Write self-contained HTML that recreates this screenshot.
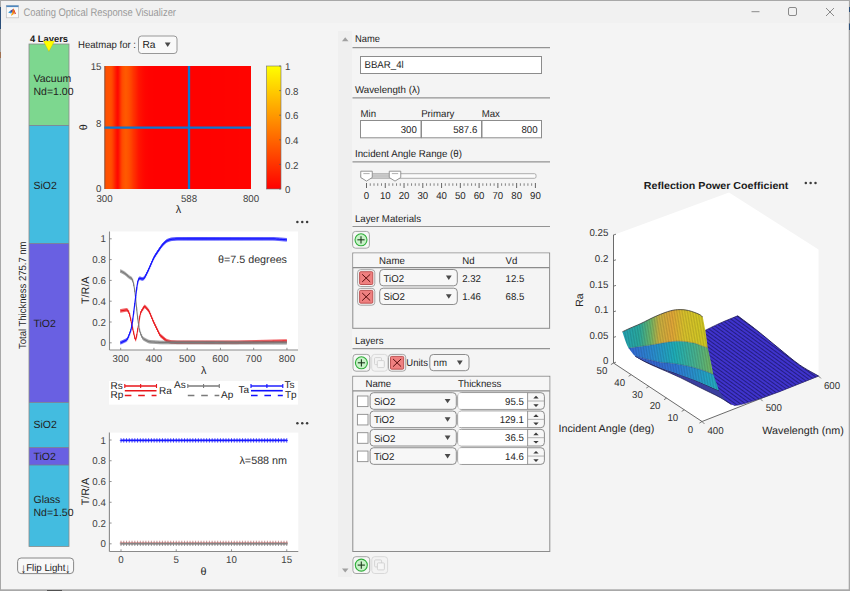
<!DOCTYPE html>
<html><head><meta charset="utf-8"><title>Coating Optical Response Visualizer</title>
<style>html,body{margin:0;padding:0;width:850px;height:591px;overflow:hidden;background:#a8a8a8}
svg{display:block} text{font-family:'Liberation Sans',Arial,sans-serif;text-rendering:geometricPrecision}</style></head>
<body><svg width="850" height="591" viewBox="0 0 850 591">
<rect x="0" y="0" width="850" height="591" fill="#a8a8a8"/>
<rect x="0" y="7" width="1" height="22" fill="#2b4f7a"/>
<rect x="0" y="52" width="1" height="6" fill="#a07050"/>
<rect x="849" y="7" width="1" height="5" fill="#2b4f7a"/>
<rect x="849" y="23.5" width="1" height="6.5" fill="#2b4f7a"/>
<rect x="47" y="590" width="15" height="1" fill="#505050"/>
<rect x="1" y="1" width="847.7" height="588.3" fill="#f4f4f4"/>
<rect x="1" y="1" width="847.7" height="22" fill="#f1f1f1"/>
<rect x="6.3" y="5.4" width="12.2" height="12.4" fill="#fafafa" stroke="#bdbdbd" stroke-width="0.7"/>
<rect x="6.3" y="5.4" width="12.2" height="1.7" fill="#4f88bf"/>
<path d="M8.1,12.4 L10.6,10.6 L12.4,11.6 L11.2,13.6 Z" fill="#2f96d6"/>
<path d="M10.4,11.0 L12.9,8.9 L12.6,12.6 Z" fill="#4a2f8a"/>
<path d="M11.2,15.8 L13.4,8.3 L14.9,11.4 L13.2,14.6 Z" fill="#f07a12"/>
<path d="M13.4,8.3 L16.0,13.7 L14.6,14.3 L14.2,11.2 Z" fill="#d5301e"/>
<path d="M11.2,15.8 L12.2,13.0 L13.4,14.0 Z" fill="#f3c21f"/>
<text x="23.5" y="16.3" font-size="11" fill="#9a9a9a" textLength="152.5" lengthAdjust="spacingAndGlyphs">Coating Optical Response Visualizer</text>
<line x1="751.5" y1="11.7" x2="759.5" y2="11.7" stroke="#8a8a8a" stroke-width="1"/>
<rect x="788.5" y="7.5" width="8" height="8" fill="none" stroke="#8a8a8a" stroke-width="1" rx="1.5"/>
<line x1="826" y1="8" x2="834" y2="16" stroke="#8a8a8a" stroke-width="1"/>
<line x1="834" y1="8" x2="826" y2="16" stroke="#8a8a8a" stroke-width="1"/>
<text x="30" y="41.5" font-size="9.4" fill="#1a1a1a" font-weight="700" textLength="38" lengthAdjust="spacingAndGlyphs">4 Layers</text>
<rect x="29" y="44" width="40" height="81.5" fill="#7dd78f"/>
<rect x="29" y="125.5" width="40" height="118.0" fill="#43bce0"/>
<rect x="29" y="243.5" width="40" height="159.0" fill="#6960e2"/>
<rect x="29" y="402.5" width="40" height="45.0" fill="#43bce0"/>
<rect x="29" y="447.5" width="40" height="17.5" fill="#6960e2"/>
<rect x="29" y="465" width="40" height="81.5" fill="#43bce0"/>
<line x1="29" y1="125.5" x2="69" y2="125.5" stroke="#7a7a8a" stroke-width="0.8"/>
<line x1="29" y1="243.5" x2="69" y2="243.5" stroke="#7a7a8a" stroke-width="0.8"/>
<line x1="29" y1="402.5" x2="69" y2="402.5" stroke="#7a7a8a" stroke-width="0.8"/>
<line x1="29" y1="447.5" x2="69" y2="447.5" stroke="#7a7a8a" stroke-width="0.8"/>
<line x1="29" y1="465" x2="69" y2="465" stroke="#7a7a8a" stroke-width="0.8"/>
<rect x="29" y="44" width="40" height="502.5" fill="none" stroke="#8a8a8a" stroke-width="0.8"/>
<path d="M43.3,41.0 L54.6,41.0 L48.9,51.5 Z" fill="#ffff00" stroke="#b0a000" stroke-width="0.3"/>
<text x="33.5" y="82" font-size="10.5" fill="#222">Vacuum</text>
<text x="33.5" y="95" font-size="10.5" fill="#222">Nd=1.00</text>
<text x="33.5" y="188.5" font-size="10.5" fill="#222">SiO2</text>
<text x="33.5" y="327" font-size="10.5" fill="#222">TiO2</text>
<text x="33.5" y="428" font-size="10.5" fill="#222">SiO2</text>
<text x="33.5" y="459.5" font-size="10.5" fill="#222">TiO2</text>
<text x="33.5" y="502.5" font-size="10.5" fill="#222">Glass</text>
<text x="33.5" y="515.5" font-size="10.5" fill="#222">Nd=1.50</text>
<text x="25.8" y="349" font-size="10.3" fill="#262626" textLength="107.5" lengthAdjust="spacingAndGlyphs" transform="rotate(-90 25.8 349)">Total Thickness 275.7 nm</text>
<rect x="17.6" y="558" width="56" height="15.6" fill="#f8f8f8" stroke="#7a7a7a" stroke-width="0.9" rx="3.5"/>
<text x="23.4" y="572.6" font-size="10" fill="#222" text-anchor="middle" transform="translate(23.4 572.6) scale(1 1.4) translate(-23.4 -572.6)">↓</text>
<text x="45.8" y="570.8" font-size="10" fill="#222" text-anchor="middle" textLength="39.3" lengthAdjust="spacingAndGlyphs">Flip Light</text>
<text x="67.8" y="572.6" font-size="10" fill="#222" text-anchor="middle" transform="translate(67.8 572.6) scale(1 1.4) translate(-67.8 -572.6)">↓</text>
<text x="78" y="48.4" font-size="10" fill="#262626" textLength="58" lengthAdjust="spacingAndGlyphs">Heatmap for :</text>
<rect x="138.5" y="36" width="38.5" height="17.5" fill="#f9f9f9" stroke="#8c8c8c" stroke-width="0.9" rx="3"/>
<text x="142.5" y="48" font-size="10.2" fill="#1a1a1a">Ra</text>
<path d="M164.8,42.4 L170.6,42.4 L167.7,46.9 Z" fill="#4a4a4a"/>
<defs><linearGradient id="hm" x1="0" y1="0" x2="1" y2="0"><stop offset="0.0000" stop-color="rgb(255,78,0)"/><stop offset="0.0080" stop-color="rgb(255,79,0)"/><stop offset="0.0160" stop-color="rgb(255,79,0)"/><stop offset="0.0240" stop-color="rgb(255,80,0)"/><stop offset="0.0320" stop-color="rgb(255,81,0)"/><stop offset="0.0400" stop-color="rgb(255,80,0)"/><stop offset="0.0480" stop-color="rgb(255,75,0)"/><stop offset="0.0560" stop-color="rgb(255,65,0)"/><stop offset="0.0640" stop-color="rgb(255,50,0)"/><stop offset="0.0720" stop-color="rgb(255,35,0)"/><stop offset="0.0800" stop-color="rgb(255,21,0)"/><stop offset="0.0880" stop-color="rgb(255,9,0)"/><stop offset="0.0960" stop-color="rgb(255,17,0)"/><stop offset="0.1040" stop-color="rgb(255,36,0)"/><stop offset="0.1120" stop-color="rgb(255,57,0)"/><stop offset="0.1200" stop-color="rgb(255,73,0)"/><stop offset="0.1280" stop-color="rgb(255,80,0)"/><stop offset="0.1360" stop-color="rgb(255,85,0)"/><stop offset="0.1440" stop-color="rgb(255,89,0)"/><stop offset="0.1520" stop-color="rgb(255,87,0)"/><stop offset="0.1600" stop-color="rgb(255,83,0)"/><stop offset="0.1680" stop-color="rgb(255,79,0)"/><stop offset="0.1760" stop-color="rgb(255,72,0)"/><stop offset="0.1840" stop-color="rgb(255,65,0)"/><stop offset="0.1920" stop-color="rgb(255,57,0)"/><stop offset="0.2000" stop-color="rgb(255,49,0)"/><stop offset="0.2080" stop-color="rgb(255,43,0)"/><stop offset="0.2160" stop-color="rgb(255,36,0)"/><stop offset="0.2240" stop-color="rgb(255,29,0)"/><stop offset="0.2320" stop-color="rgb(255,22,0)"/><stop offset="0.2400" stop-color="rgb(255,18,0)"/><stop offset="0.2480" stop-color="rgb(255,15,0)"/><stop offset="0.2560" stop-color="rgb(255,12,0)"/><stop offset="0.2640" stop-color="rgb(255,9,0)"/><stop offset="0.2720" stop-color="rgb(255,7,0)"/><stop offset="0.2800" stop-color="rgb(255,5,0)"/><stop offset="0.2880" stop-color="rgb(255,4,0)"/><stop offset="0.2960" stop-color="rgb(255,3,0)"/><stop offset="0.3040" stop-color="rgb(255,2,0)"/><stop offset="0.3120" stop-color="rgb(255,2,0)"/><stop offset="0.3200" stop-color="rgb(255,2,0)"/><stop offset="0.3280" stop-color="rgb(255,2,0)"/><stop offset="0.3360" stop-color="rgb(255,1,0)"/><stop offset="0.3440" stop-color="rgb(255,1,0)"/><stop offset="0.3520" stop-color="rgb(255,1,0)"/><stop offset="0.3600" stop-color="rgb(255,1,0)"/><stop offset="0.3680" stop-color="rgb(255,1,0)"/><stop offset="0.3760" stop-color="rgb(255,1,0)"/><stop offset="0.3840" stop-color="rgb(255,1,0)"/><stop offset="0.3920" stop-color="rgb(255,1,0)"/><stop offset="0.4000" stop-color="rgb(255,1,0)"/><stop offset="0.4080" stop-color="rgb(255,1,0)"/><stop offset="0.4160" stop-color="rgb(255,1,0)"/><stop offset="0.4240" stop-color="rgb(255,1,0)"/><stop offset="0.4320" stop-color="rgb(255,1,0)"/><stop offset="0.4400" stop-color="rgb(255,1,0)"/><stop offset="0.4480" stop-color="rgb(255,1,0)"/><stop offset="0.4560" stop-color="rgb(255,1,0)"/><stop offset="0.4640" stop-color="rgb(255,1,0)"/><stop offset="0.4720" stop-color="rgb(255,1,0)"/><stop offset="0.4800" stop-color="rgb(255,1,0)"/><stop offset="0.4880" stop-color="rgb(255,1,0)"/><stop offset="0.4960" stop-color="rgb(255,1,0)"/><stop offset="0.5040" stop-color="rgb(255,1,0)"/><stop offset="0.5120" stop-color="rgb(255,1,0)"/><stop offset="0.5200" stop-color="rgb(255,1,0)"/><stop offset="0.5280" stop-color="rgb(255,1,0)"/><stop offset="0.5360" stop-color="rgb(255,1,0)"/><stop offset="0.5440" stop-color="rgb(255,1,0)"/><stop offset="0.5520" stop-color="rgb(255,1,0)"/><stop offset="0.5600" stop-color="rgb(255,1,0)"/><stop offset="0.5680" stop-color="rgb(255,1,0)"/><stop offset="0.5760" stop-color="rgb(255,1,0)"/><stop offset="0.5840" stop-color="rgb(255,1,0)"/><stop offset="0.5920" stop-color="rgb(255,1,0)"/><stop offset="0.6000" stop-color="rgb(255,1,0)"/><stop offset="0.6080" stop-color="rgb(255,1,0)"/><stop offset="0.6160" stop-color="rgb(255,1,0)"/><stop offset="0.6240" stop-color="rgb(255,1,0)"/><stop offset="0.6320" stop-color="rgb(255,1,0)"/><stop offset="0.6400" stop-color="rgb(255,1,0)"/><stop offset="0.6480" stop-color="rgb(255,1,0)"/><stop offset="0.6560" stop-color="rgb(255,1,0)"/><stop offset="0.6640" stop-color="rgb(255,1,0)"/><stop offset="0.6720" stop-color="rgb(255,1,0)"/><stop offset="0.6800" stop-color="rgb(255,1,0)"/><stop offset="0.6880" stop-color="rgb(255,1,0)"/><stop offset="0.6960" stop-color="rgb(255,1,0)"/><stop offset="0.7040" stop-color="rgb(255,1,0)"/><stop offset="0.7120" stop-color="rgb(255,1,0)"/><stop offset="0.7200" stop-color="rgb(255,1,0)"/><stop offset="0.7280" stop-color="rgb(255,2,0)"/><stop offset="0.7360" stop-color="rgb(255,2,0)"/><stop offset="0.7440" stop-color="rgb(255,2,0)"/><stop offset="0.7520" stop-color="rgb(255,2,0)"/><stop offset="0.7600" stop-color="rgb(255,2,0)"/><stop offset="0.7680" stop-color="rgb(255,2,0)"/><stop offset="0.7760" stop-color="rgb(255,2,0)"/><stop offset="0.7840" stop-color="rgb(255,2,0)"/><stop offset="0.7920" stop-color="rgb(255,2,0)"/><stop offset="0.8000" stop-color="rgb(255,2,0)"/><stop offset="0.8080" stop-color="rgb(255,2,0)"/><stop offset="0.8160" stop-color="rgb(255,2,0)"/><stop offset="0.8240" stop-color="rgb(255,3,0)"/><stop offset="0.8320" stop-color="rgb(255,3,0)"/><stop offset="0.8400" stop-color="rgb(255,3,0)"/><stop offset="0.8480" stop-color="rgb(255,3,0)"/><stop offset="0.8560" stop-color="rgb(255,3,0)"/><stop offset="0.8640" stop-color="rgb(255,3,0)"/><stop offset="0.8720" stop-color="rgb(255,3,0)"/><stop offset="0.8800" stop-color="rgb(255,3,0)"/><stop offset="0.8880" stop-color="rgb(255,3,0)"/><stop offset="0.8960" stop-color="rgb(255,3,0)"/><stop offset="0.9040" stop-color="rgb(255,3,0)"/><stop offset="0.9120" stop-color="rgb(255,3,0)"/><stop offset="0.9200" stop-color="rgb(255,4,0)"/><stop offset="0.9280" stop-color="rgb(255,4,0)"/><stop offset="0.9360" stop-color="rgb(255,4,0)"/><stop offset="0.9440" stop-color="rgb(255,4,0)"/><stop offset="0.9520" stop-color="rgb(255,4,0)"/><stop offset="0.9600" stop-color="rgb(255,4,0)"/><stop offset="0.9680" stop-color="rgb(255,4,0)"/><stop offset="0.9760" stop-color="rgb(255,4,0)"/><stop offset="0.9840" stop-color="rgb(255,4,0)"/><stop offset="0.9920" stop-color="rgb(255,4,0)"/><stop offset="1.0000" stop-color="rgb(255,4,0)"/></linearGradient><linearGradient id="cb" x1="0" y1="1" x2="0" y2="0"><stop offset="0" stop-color="#ff0000"/><stop offset="1" stop-color="#ffff00"/></linearGradient></defs>
<rect x="104.5" y="66" width="146.5" height="123" fill="url(#hm)"/>
<line x1="104.8" y1="66" x2="104.8" y2="189" stroke="#505050" stroke-width="0.7"/>
<line x1="189" y1="66" x2="189" y2="189" stroke="#0a78d2" stroke-width="2.3"/>
<line x1="104.5" y1="127.7" x2="251" y2="127.7" stroke="#0a78d2" stroke-width="2.3"/>
<text x="101.5" y="69.5" font-size="10" fill="#404040" text-anchor="end" textLength="10.79" lengthAdjust="spacingAndGlyphs">15</text>
<text x="101.5" y="126.5" font-size="10" fill="#404040" text-anchor="end" textLength="5.39" lengthAdjust="spacingAndGlyphs">8</text>
<text x="101.5" y="192" font-size="10" fill="#404040" text-anchor="end" textLength="5.39" lengthAdjust="spacingAndGlyphs">0</text>
<text x="104.5" y="201.5" font-size="10" fill="#404040" text-anchor="middle" textLength="16.18" lengthAdjust="spacingAndGlyphs">300</text>
<text x="189" y="201.5" font-size="10" fill="#404040" text-anchor="middle" textLength="16.18" lengthAdjust="spacingAndGlyphs">588</text>
<text x="251" y="201.5" font-size="10" fill="#404040" text-anchor="middle" textLength="16.18" lengthAdjust="spacingAndGlyphs">800</text>
<text x="87" y="127.3" font-size="10.8" fill="#262626" text-anchor="middle" transform="rotate(-90 87 127.3)">θ</text>
<text x="178.5" y="213.4" font-size="10.8" fill="#262626" text-anchor="middle">λ</text>
<rect x="266.5" y="66" width="14.5" height="123" fill="url(#cb)"/>
<rect x="266.5" y="66" width="14.5" height="123" fill="none" stroke="#707070" stroke-width="0.6"/>
<text x="285" y="70.1" font-size="10" fill="#404040" textLength="5.39" lengthAdjust="spacingAndGlyphs">1</text>
<line x1="279" y1="66" x2="281" y2="66" stroke="#555" stroke-width="0.6"/>
<text x="285" y="94.69999999999999" font-size="10" fill="#404040" textLength="13.48" lengthAdjust="spacingAndGlyphs">0.8</text>
<line x1="279" y1="90.6" x2="281" y2="90.6" stroke="#555" stroke-width="0.6"/>
<text x="285" y="119.3" font-size="10" fill="#404040" textLength="13.48" lengthAdjust="spacingAndGlyphs">0.6</text>
<line x1="279" y1="115.2" x2="281" y2="115.2" stroke="#555" stroke-width="0.6"/>
<text x="285" y="143.9" font-size="10" fill="#404040" textLength="13.48" lengthAdjust="spacingAndGlyphs">0.4</text>
<line x1="279" y1="139.8" x2="281" y2="139.8" stroke="#555" stroke-width="0.6"/>
<text x="285" y="168.5" font-size="10" fill="#404040" textLength="13.48" lengthAdjust="spacingAndGlyphs">0.2</text>
<line x1="279" y1="164.4" x2="281" y2="164.4" stroke="#555" stroke-width="0.6"/>
<text x="285" y="193.1" font-size="10" fill="#404040" textLength="5.39" lengthAdjust="spacingAndGlyphs">0</text>
<line x1="279" y1="189" x2="281" y2="189" stroke="#555" stroke-width="0.6"/>
<rect x="109.5" y="231.5" width="188.5" height="118.5" fill="#ffffff"/>
<line x1="109.5" y1="231.5" x2="109.5" y2="350" stroke="#8a8a8a" stroke-width="1.1"/>
<line x1="109.5" y1="350" x2="298" y2="350" stroke="#8a8a8a" stroke-width="1.1"/>
<line x1="109.5" y1="342.8" x2="111.7" y2="342.8" stroke="#777" stroke-width="0.8"/>
<text x="105.8" y="346.3" font-size="10" fill="#404040" text-anchor="end" textLength="5.39" lengthAdjust="spacingAndGlyphs">0</text>
<line x1="109.5" y1="322.0" x2="111.7" y2="322.0" stroke="#777" stroke-width="0.8"/>
<text x="105.8" y="325.5" font-size="10" fill="#404040" text-anchor="end" textLength="13.48" lengthAdjust="spacingAndGlyphs">0.2</text>
<line x1="109.5" y1="301.2" x2="111.7" y2="301.2" stroke="#777" stroke-width="0.8"/>
<text x="105.8" y="304.7" font-size="10" fill="#404040" text-anchor="end" textLength="13.48" lengthAdjust="spacingAndGlyphs">0.4</text>
<line x1="109.5" y1="280.40000000000003" x2="111.7" y2="280.40000000000003" stroke="#777" stroke-width="0.8"/>
<text x="105.8" y="283.90000000000003" font-size="10" fill="#404040" text-anchor="end" textLength="13.48" lengthAdjust="spacingAndGlyphs">0.6</text>
<line x1="109.5" y1="259.6" x2="111.7" y2="259.6" stroke="#777" stroke-width="0.8"/>
<text x="105.8" y="263.1" font-size="10" fill="#404040" text-anchor="end" textLength="13.48" lengthAdjust="spacingAndGlyphs">0.8</text>
<line x1="109.5" y1="238.8" x2="111.7" y2="238.8" stroke="#777" stroke-width="0.8"/>
<text x="105.8" y="242.3" font-size="10" fill="#404040" text-anchor="end" textLength="5.39" lengthAdjust="spacingAndGlyphs">1</text>
<line x1="120.7" y1="350" x2="120.7" y2="347.8" stroke="#777" stroke-width="0.8"/>
<text x="120.7" y="362" font-size="10" fill="#404040" text-anchor="middle" textLength="16.18" lengthAdjust="spacingAndGlyphs">300</text>
<line x1="153.95" y1="350" x2="153.95" y2="347.8" stroke="#777" stroke-width="0.8"/>
<text x="153.95" y="362" font-size="10" fill="#404040" text-anchor="middle" textLength="16.18" lengthAdjust="spacingAndGlyphs">400</text>
<line x1="187.2" y1="350" x2="187.2" y2="347.8" stroke="#777" stroke-width="0.8"/>
<text x="187.2" y="362" font-size="10" fill="#404040" text-anchor="middle" textLength="16.18" lengthAdjust="spacingAndGlyphs">500</text>
<line x1="220.45" y1="350" x2="220.45" y2="347.8" stroke="#777" stroke-width="0.8"/>
<text x="220.45" y="362" font-size="10" fill="#404040" text-anchor="middle" textLength="16.18" lengthAdjust="spacingAndGlyphs">600</text>
<line x1="253.7" y1="350" x2="253.7" y2="347.8" stroke="#777" stroke-width="0.8"/>
<text x="253.7" y="362" font-size="10" fill="#404040" text-anchor="middle" textLength="16.18" lengthAdjust="spacingAndGlyphs">700</text>
<line x1="286.95" y1="350" x2="286.95" y2="347.8" stroke="#777" stroke-width="0.8"/>
<text x="286.95" y="362" font-size="10" fill="#404040" text-anchor="middle" textLength="16.18" lengthAdjust="spacingAndGlyphs">800</text>
<text x="203.6" y="373.8" font-size="10.8" fill="#262626" text-anchor="middle">λ</text>
<text x="89" y="290.2" font-size="10.8" fill="#262626" text-anchor="middle" textLength="27.5" lengthAdjust="spacingAndGlyphs" transform="rotate(-90 89 290.2)">T/R/A</text>
<text x="218" y="263" font-size="10.7" fill="#303030" textLength="69" lengthAdjust="spacingAndGlyphs">θ=7.5 degrees</text>
<path d="M120.70,310.84 L121.03,310.80 L121.37,310.75 L121.70,310.70 L122.03,310.64 L122.36,310.59 L122.70,310.53 L123.03,310.47 L123.36,310.41 L123.69,310.36 L124.03,310.30 L124.36,310.24 L124.69,310.19 L125.02,310.13 L125.36,310.07 L125.69,310.01 L126.02,309.96 L126.35,309.91 L126.69,309.89 L127.02,309.93 L127.35,310.10 L127.68,310.43 L128.02,310.88 L128.35,311.42 L128.68,312.02 L129.01,312.74 L129.34,313.66 L129.68,314.83 L130.01,316.20 L130.34,317.69 L130.68,319.21 L131.01,320.75 L131.34,322.29 L131.67,323.83 L132.00,325.36 L132.34,326.89 L132.67,328.40 L133.00,329.88 L133.34,331.35 L133.67,332.81 L134.00,334.27 L134.33,335.72 L134.66,337.13 L135.00,338.40 L135.33,339.28 L135.66,339.47 L136.00,338.81 L136.33,337.47 L136.66,335.73 L136.99,333.85 L137.32,331.93 L137.66,329.99 L137.99,328.02 L138.32,326.00 L138.66,323.91 L138.99,321.78 L139.32,319.63 L139.65,317.54 L139.99,315.63 L140.32,314.07 L140.65,312.91 L140.98,312.08 L141.31,311.45 L141.65,310.88 L141.98,310.34 L142.31,309.79 L142.65,309.25 L142.98,308.70 L143.31,308.16 L143.64,307.63 L143.97,307.14 L144.31,306.75 L144.64,306.55 L144.97,306.58 L145.31,306.80 L145.64,307.13 L145.97,307.49 L146.30,307.86 L146.63,308.24 L146.97,308.62 L147.30,308.99 L147.63,309.37 L147.97,309.75 L148.30,310.15 L148.63,310.60 L148.96,311.13 L149.30,311.77 L149.63,312.49 L149.96,313.26 L150.29,314.05 L150.62,314.85 L150.96,315.64 L151.29,316.44 L151.62,317.23 L151.96,318.03 L152.29,318.82 L152.62,319.61 L152.95,320.40 L153.28,321.18 L153.62,321.94 L153.95,322.66 L154.28,323.37 L154.62,324.07 L154.95,324.76 L155.28,325.45 L155.61,326.14 L155.94,326.83 L156.28,327.52 L156.61,328.21 L156.94,328.90 L157.28,329.59 L157.61,330.28 L157.94,330.97 L158.27,331.66 L158.61,332.34 L158.94,333.03 L159.27,333.70 L159.60,334.32 L159.94,334.85 L160.27,335.29 L160.60,335.64 L160.93,335.94 L161.27,336.23 L161.60,336.51 L161.93,336.79 L162.26,337.07 L162.59,337.35 L162.93,337.63 L163.26,337.91 L163.59,338.19 L163.93,338.47 L164.26,338.75 L164.59,339.04 L164.92,339.32 L165.25,339.60 L165.59,339.87 L165.92,340.15 L166.25,340.39 L166.59,340.61 L166.92,340.77 L167.25,340.90 L167.58,341.01 L167.92,341.10 L168.25,341.20 L168.58,341.30 L168.91,341.39 L169.25,341.49 L169.58,341.58 L169.91,341.68 L170.24,341.77 L170.57,341.85 L170.91,341.92 L171.24,341.97 L171.57,342.00 L171.91,342.02 L172.24,342.03 L172.57,342.05 L172.90,342.07 L173.24,342.08 L173.57,342.10 L173.90,342.12 L174.23,342.13 L174.56,342.15 L174.90,342.17 L175.23,342.18 L175.56,342.20 L175.90,342.21 L176.23,342.23 L176.56,342.25 L176.89,342.26 L177.23,342.27 L177.56,342.28 L177.89,342.28 L178.22,342.28 L178.56,342.28 L178.89,342.28 L179.22,342.28 L179.55,342.28 L179.88,342.28 L180.22,342.28 L180.55,342.28 L180.88,342.28 L181.22,342.28 L181.55,342.28 L181.88,342.28 L182.21,342.28 L182.55,342.28 L182.88,342.28 L183.21,342.28 L183.54,342.28 L183.88,342.28 L184.21,342.28 L184.54,342.28 L184.87,342.28 L185.21,342.28 L185.54,342.28 L185.87,342.28 L186.20,342.28 L186.54,342.28 L186.87,342.28 L187.20,342.28 L187.53,342.28 L187.87,342.28 L188.20,342.28 L188.53,342.28 L188.86,342.28 L189.19,342.28 L189.53,342.28 L189.86,342.28 L190.19,342.28 L190.53,342.28 L190.86,342.28 L191.19,342.28 L191.52,342.28 L191.86,342.28 L192.19,342.28 L192.52,342.28 L192.85,342.28 L193.19,342.28 L193.52,342.28 L193.85,342.28 L194.18,342.28 L194.51,342.28 L194.85,342.28 L195.18,342.28 L195.51,342.28 L195.85,342.28 L196.18,342.28 L196.51,342.28 L196.84,342.28 L197.18,342.28 L197.51,342.28 L197.84,342.28 L198.17,342.28 L198.50,342.28 L198.84,342.28 L199.17,342.28 L199.50,342.28 L199.84,342.28 L200.17,342.28 L200.50,342.28 L200.83,342.28 L201.17,342.28 L201.50,342.28 L201.83,342.28 L202.16,342.28 L202.50,342.28 L202.83,342.28 L203.16,342.28 L203.49,342.28 L203.82,342.28 L204.16,342.28 L204.49,342.28 L204.82,342.28 L205.16,342.28 L205.49,342.28 L205.82,342.28 L206.15,342.28 L206.49,342.28 L206.82,342.28 L207.15,342.28 L207.48,342.28 L207.81,342.28 L208.15,342.28 L208.48,342.28 L208.81,342.28 L209.15,342.28 L209.48,342.28 L209.81,342.28 L210.14,342.28 L210.48,342.28 L210.81,342.28 L211.14,342.28 L211.47,342.28 L211.81,342.28 L212.14,342.28 L212.47,342.28 L212.80,342.28 L213.13,342.28 L213.47,342.28 L213.80,342.28 L214.13,342.28 L214.47,342.28 L214.80,342.28 L215.13,342.28 L215.46,342.28 L215.80,342.28 L216.13,342.28 L216.46,342.28 L216.79,342.28 L217.12,342.28 L217.46,342.28 L217.79,342.28 L218.12,342.28 L218.46,342.28 L218.79,342.28 L219.12,342.28 L219.45,342.28 L219.79,342.28 L220.12,342.28 L220.45,342.28 L220.78,342.28 L221.12,342.28 L221.45,342.28 L221.78,342.28 L222.11,342.28 L222.44,342.28 L222.78,342.28 L223.11,342.28 L223.44,342.28 L223.78,342.28 L224.11,342.28 L224.44,342.28 L224.77,342.28 L225.11,342.28 L225.44,342.28 L225.77,342.28 L226.10,342.28 L226.44,342.28 L226.77,342.28 L227.10,342.28 L227.43,342.28 L227.77,342.28 L228.10,342.28 L228.43,342.28 L228.76,342.28 L229.10,342.28 L229.43,342.28 L229.76,342.28 L230.09,342.28 L230.43,342.28 L230.76,342.28 L231.09,342.28 L231.42,342.28 L231.75,342.28 L232.09,342.28 L232.42,342.28 L232.75,342.28 L233.09,342.28 L233.42,342.28 L233.75,342.28 L234.08,342.28 L234.42,342.28 L234.75,342.28 L235.08,342.28 L235.41,342.28 L235.75,342.28 L236.08,342.28 L236.41,342.28 L236.74,342.28 L237.07,342.27 L237.41,342.27 L237.74,342.26 L238.07,342.25 L238.41,342.25 L238.74,342.24 L239.07,342.23 L239.40,342.22 L239.74,342.21 L240.07,342.21 L240.40,342.20 L240.73,342.19 L241.06,342.18 L241.40,342.17 L241.73,342.16 L242.06,342.16 L242.40,342.15 L242.73,342.14 L243.06,342.13 L243.39,342.12 L243.73,342.11 L244.06,342.11 L244.39,342.10 L244.72,342.09 L245.06,342.08 L245.39,342.07 L245.72,342.06 L246.05,342.06 L246.38,342.05 L246.72,342.04 L247.05,342.03 L247.38,342.02 L247.72,342.01 L248.05,342.01 L248.38,342.00 L248.71,341.99 L249.05,341.98 L249.38,341.97 L249.71,341.96 L250.04,341.96 L250.38,341.95 L250.71,341.94 L251.04,341.93 L251.37,341.92 L251.70,341.91 L252.04,341.91 L252.37,341.90 L252.70,341.89 L253.04,341.88 L253.37,341.87 L253.70,341.86 L254.03,341.86 L254.37,341.85 L254.70,341.84 L255.03,341.83 L255.36,341.82 L255.69,341.81 L256.03,341.81 L256.36,341.80 L256.69,341.79 L257.03,341.78 L257.36,341.77 L257.69,341.76 L258.02,341.76 L258.36,341.75 L258.69,341.74 L259.02,341.73 L259.35,341.72 L259.69,341.71 L260.02,341.71 L260.35,341.70 L260.68,341.69 L261.01,341.68 L261.35,341.67 L261.68,341.66 L262.01,341.66 L262.35,341.65 L262.68,341.64 L263.01,341.63 L263.34,341.62 L263.68,341.61 L264.01,341.61 L264.34,341.60 L264.67,341.59 L265.00,341.58 L265.34,341.57 L265.67,341.56 L266.00,341.56 L266.34,341.55 L266.67,341.54 L267.00,341.53 L267.33,341.52 L267.67,341.51 L268.00,341.51 L268.33,341.50 L268.66,341.49 L269.00,341.48 L269.33,341.47 L269.66,341.46 L269.99,341.46 L270.32,341.45 L270.66,341.44 L270.99,341.43 L271.32,341.42 L271.66,341.41 L271.99,341.41 L272.32,341.40 L272.65,341.39 L272.99,341.38 L273.32,341.37 L273.65,341.36 L273.98,341.36 L274.31,341.35 L274.65,341.34 L274.98,341.33 L275.31,341.32 L275.65,341.31 L275.98,341.31 L276.31,341.30 L276.64,341.29 L276.98,341.28 L277.31,341.27 L277.64,341.26 L277.97,341.26 L278.31,341.25 L278.64,341.24 L278.97,341.23 L279.30,341.22 L279.63,341.22 L279.97,341.21 L280.30,341.20 L280.63,341.19 L280.97,341.18 L281.30,341.17 L281.63,341.17 L281.96,341.16 L282.30,341.15 L282.63,341.14 L282.96,341.13 L283.29,341.12 L283.62,341.12 L283.96,341.11 L284.29,341.10 L284.62,341.09 L284.95,341.08 L285.29,341.07 L285.62,341.07 L285.95,341.06 L286.29,341.05 L286.62,341.04 L286.95,341.04" fill="none" stroke="#e8161b" stroke-width="1.05" stroke-linejoin="round"/>
<path d="M120.70,309.04v3.60M121.70,308.90v3.60M122.70,308.73v3.60M123.69,308.56v3.60M124.69,308.39v3.60M125.69,308.21v3.60M126.69,308.09v3.60M127.68,308.63v3.60M128.68,310.22v3.60M129.68,313.03v3.60M130.68,317.41v3.60M131.67,322.03v3.60M132.67,326.60v3.60M133.67,331.01v3.60M134.66,335.33v3.60M135.66,337.67v3.60M136.66,333.93v3.60M137.66,328.19v3.60M138.66,322.11v3.60M139.65,315.74v3.60M140.65,311.11v3.60M141.65,309.08v3.60M142.65,307.45v3.60M143.64,305.83v3.60M144.64,304.75v3.60M145.64,305.33v3.60M146.63,306.44v3.60M147.63,307.57v3.60M148.63,308.80v3.60M149.63,310.69v3.60M150.62,313.05v3.60M151.62,315.43v3.60M152.62,317.81v3.60M153.62,320.14v3.60M154.62,322.27v3.60M155.61,324.34v3.60M156.61,326.41v3.60M157.61,328.48v3.60M158.61,330.54v3.60M159.60,332.52v3.60M160.60,333.84v3.60M161.60,334.71v3.60M162.59,335.55v3.60M163.59,336.39v3.60M164.59,337.24v3.60M165.59,338.07v3.60M166.59,338.81v3.60M167.58,339.21v3.60M168.58,339.50v3.60M169.58,339.78v3.60M170.57,340.05v3.60M171.57,340.20v3.60M172.57,340.25v3.60M173.57,340.30v3.60M174.56,340.35v3.60M175.56,340.40v3.60M176.56,340.45v3.60M177.56,340.48v3.60M178.56,340.48v3.60M179.55,340.48v3.60M180.55,340.48v3.60M181.55,340.48v3.60M182.55,340.48v3.60M183.54,340.48v3.60M184.54,340.48v3.60M185.54,340.48v3.60M186.54,340.48v3.60M187.53,340.48v3.60M188.53,340.48v3.60M189.53,340.48v3.60M190.53,340.48v3.60M191.52,340.48v3.60M192.52,340.48v3.60M193.52,340.48v3.60M194.51,340.48v3.60M195.51,340.48v3.60M196.51,340.48v3.60M197.51,340.48v3.60M198.50,340.48v3.60M199.50,340.48v3.60M200.50,340.48v3.60M201.50,340.48v3.60M202.50,340.48v3.60M203.49,340.48v3.60M204.49,340.48v3.60M205.49,340.48v3.60M206.49,340.48v3.60M207.48,340.48v3.60M208.48,340.48v3.60M209.48,340.48v3.60M210.48,340.48v3.60M211.47,340.48v3.60M212.47,340.48v3.60M213.47,340.48v3.60M214.47,340.48v3.60M215.46,340.48v3.60M216.46,340.48v3.60M217.46,340.48v3.60M218.46,340.48v3.60M219.45,340.48v3.60M220.45,340.48v3.60M221.45,340.48v3.60M222.44,340.48v3.60M223.44,340.48v3.60M224.44,340.48v3.60M225.44,340.48v3.60M226.44,340.48v3.60M227.43,340.48v3.60M228.43,340.48v3.60M229.43,340.48v3.60M230.43,340.48v3.60M231.42,340.48v3.60M232.42,340.48v3.60M233.42,340.48v3.60M234.42,340.48v3.60M235.41,340.48v3.60M236.41,340.48v3.60M237.41,340.47v3.60M238.41,340.45v3.60M239.40,340.42v3.60M240.40,340.40v3.60M241.40,340.37v3.60M242.40,340.35v3.60M243.39,340.32v3.60M244.39,340.30v3.60M245.39,340.27v3.60M246.38,340.25v3.60M247.38,340.22v3.60M248.38,340.20v3.60M249.38,340.17v3.60M250.38,340.15v3.60M251.37,340.12v3.60M252.37,340.10v3.60M253.37,340.07v3.60M254.37,340.05v3.60M255.36,340.02v3.60M256.36,340.00v3.60M257.36,339.97v3.60M258.36,339.95v3.60M259.35,339.92v3.60M260.35,339.90v3.60M261.35,339.87v3.60M262.35,339.85v3.60M263.34,339.82v3.60M264.34,339.80v3.60M265.34,339.77v3.60M266.34,339.75v3.60M267.33,339.72v3.60M268.33,339.70v3.60M269.33,339.67v3.60M270.32,339.65v3.60M271.32,339.62v3.60M272.32,339.60v3.60M273.32,339.57v3.60M274.31,339.55v3.60M275.31,339.52v3.60M276.31,339.50v3.60M277.31,339.47v3.60M278.31,339.45v3.60M279.30,339.42v3.60M280.30,339.40v3.60M281.30,339.37v3.60M282.30,339.35v3.60M283.29,339.32v3.60M284.29,339.30v3.60M285.29,339.27v3.60M286.29,339.25v3.60" fill="none" stroke="#e8161b" stroke-width="0.75"/>
<path d="M120.70,271.22 L121.03,271.33 L121.37,271.46 L121.70,271.62 L122.03,271.79 L122.36,271.96 L122.70,272.15 L123.03,272.33 L123.36,272.51 L123.69,272.70 L124.03,272.89 L124.36,273.10 L124.69,273.31 L125.02,273.54 L125.36,273.79 L125.69,274.06 L126.02,274.33 L126.35,274.62 L126.69,274.91 L127.02,275.21 L127.35,275.50 L127.68,275.80 L128.02,276.09 L128.35,276.37 L128.68,276.65 L129.01,276.91 L129.34,277.15 L129.68,277.37 L130.01,277.58 L130.34,277.76 L130.68,277.95 L131.01,278.14 L131.34,278.36 L131.67,278.65 L132.00,279.05 L132.34,279.64 L132.67,280.45 L133.00,281.51 L133.34,282.81 L133.67,284.33 L134.00,286.07 L134.33,288.02 L134.66,290.24 L135.00,292.77 L135.33,295.62 L135.66,298.74 L136.00,302.04 L136.33,305.40 L136.66,308.71 L136.99,311.89 L137.32,314.89 L137.66,317.70 L137.99,320.34 L138.32,322.81 L138.66,325.09 L138.99,327.14 L139.32,328.93 L139.65,330.44 L139.99,331.69 L140.32,332.74 L140.65,333.66 L140.98,334.49 L141.31,335.27 L141.65,336.01 L141.98,336.70 L142.31,337.31 L142.65,337.84 L142.98,338.27 L143.31,338.61 L143.64,338.88 L143.97,339.10 L144.31,339.30 L144.64,339.48 L144.97,339.66 L145.31,339.83 L145.64,340.01 L145.97,340.18 L146.30,340.36 L146.63,340.53 L146.97,340.71 L147.30,340.88 L147.63,341.05 L147.97,341.21 L148.30,341.37 L148.63,341.50 L148.96,341.61 L149.30,341.69 L149.63,341.76 L149.96,341.80 L150.29,341.84 L150.62,341.86 L150.96,341.88 L151.29,341.91 L151.62,341.93 L151.96,341.95 L152.29,341.97 L152.62,341.99 L152.95,342.01 L153.28,342.03 L153.62,342.05 L153.95,342.07 L154.28,342.09 L154.62,342.11 L154.95,342.13 L155.28,342.16 L155.61,342.18 L155.94,342.20 L156.28,342.22 L156.61,342.24 L156.94,342.26 L157.28,342.28 L157.61,342.30 L157.94,342.32 L158.27,342.34 L158.61,342.36 L158.94,342.38 L159.27,342.40 L159.60,342.42 L159.94,342.44 L160.27,342.46 L160.60,342.47 L160.93,342.48 L161.27,342.48 L161.60,342.49 L161.93,342.49 L162.26,342.49 L162.59,342.49 L162.93,342.49 L163.26,342.49 L163.59,342.50 L163.93,342.50 L164.26,342.50 L164.59,342.50 L164.92,342.50 L165.25,342.50 L165.59,342.50 L165.92,342.50 L166.25,342.50 L166.59,342.50 L166.92,342.50 L167.25,342.50 L167.58,342.51 L167.92,342.51 L168.25,342.51 L168.58,342.51 L168.91,342.51 L169.25,342.51 L169.58,342.51 L169.91,342.51 L170.24,342.51 L170.57,342.51 L170.91,342.51 L171.24,342.51 L171.57,342.52 L171.91,342.52 L172.24,342.52 L172.57,342.52 L172.90,342.52 L173.24,342.52 L173.57,342.52 L173.90,342.52 L174.23,342.52 L174.56,342.52 L174.90,342.52 L175.23,342.52 L175.56,342.52 L175.90,342.53 L176.23,342.53 L176.56,342.53 L176.89,342.53 L177.23,342.53 L177.56,342.53 L177.89,342.53 L178.22,342.53 L178.56,342.53 L178.89,342.53 L179.22,342.53 L179.55,342.53 L179.88,342.54 L180.22,342.54 L180.55,342.54 L180.88,342.54 L181.22,342.54 L181.55,342.54 L181.88,342.54 L182.21,342.54 L182.55,342.54 L182.88,342.54 L183.21,342.54 L183.54,342.54 L183.88,342.55 L184.21,342.55 L184.54,342.55 L184.87,342.55 L185.21,342.55 L185.54,342.55 L185.87,342.55 L186.20,342.55 L186.54,342.55 L186.87,342.55 L187.20,342.55 L187.53,342.55 L187.87,342.56 L188.20,342.56 L188.53,342.56 L188.86,342.56 L189.19,342.56 L189.53,342.56 L189.86,342.56 L190.19,342.56 L190.53,342.56 L190.86,342.56 L191.19,342.56 L191.52,342.56 L191.86,342.57 L192.19,342.57 L192.52,342.57 L192.85,342.57 L193.19,342.57 L193.52,342.57 L193.85,342.57 L194.18,342.57 L194.51,342.57 L194.85,342.57 L195.18,342.57 L195.51,342.57 L195.85,342.58 L196.18,342.58 L196.51,342.58 L196.84,342.58 L197.18,342.58 L197.51,342.58 L197.84,342.58 L198.17,342.58 L198.50,342.58 L198.84,342.58 L199.17,342.58 L199.50,342.58 L199.84,342.58 L200.17,342.59 L200.50,342.59 L200.83,342.59 L201.17,342.59 L201.50,342.59 L201.83,342.59 L202.16,342.59 L202.50,342.59 L202.83,342.59 L203.16,342.59 L203.49,342.59 L203.82,342.59 L204.16,342.60 L204.49,342.60 L204.82,342.60 L205.16,342.60 L205.49,342.60 L205.82,342.60 L206.15,342.60 L206.49,342.60 L206.82,342.60 L207.15,342.60 L207.48,342.60 L207.81,342.60 L208.15,342.61 L208.48,342.61 L208.81,342.61 L209.15,342.61 L209.48,342.61 L209.81,342.61 L210.14,342.61 L210.48,342.61 L210.81,342.61 L211.14,342.61 L211.47,342.61 L211.81,342.61 L212.14,342.62 L212.47,342.62 L212.80,342.62 L213.13,342.62 L213.47,342.62 L213.80,342.62 L214.13,342.62 L214.47,342.62 L214.80,342.62 L215.13,342.62 L215.46,342.62 L215.80,342.62 L216.13,342.63 L216.46,342.63 L216.79,342.63 L217.12,342.63 L217.46,342.63 L217.79,342.63 L218.12,342.63 L218.46,342.63 L218.79,342.63 L219.12,342.63 L219.45,342.63 L219.79,342.63 L220.12,342.63 L220.45,342.64 L220.78,342.64 L221.12,342.64 L221.45,342.64 L221.78,342.64 L222.11,342.64 L222.44,342.64 L222.78,342.64 L223.11,342.64 L223.44,342.64 L223.78,342.64 L224.11,342.64 L224.44,342.65 L224.77,342.65 L225.11,342.65 L225.44,342.65 L225.77,342.65 L226.10,342.65 L226.44,342.65 L226.77,342.65 L227.10,342.65 L227.43,342.65 L227.77,342.65 L228.10,342.65 L228.43,342.66 L228.76,342.66 L229.10,342.66 L229.43,342.66 L229.76,342.66 L230.09,342.66 L230.43,342.66 L230.76,342.66 L231.09,342.66 L231.42,342.66 L231.75,342.66 L232.09,342.66 L232.42,342.67 L232.75,342.67 L233.09,342.67 L233.42,342.67 L233.75,342.67 L234.08,342.67 L234.42,342.67 L234.75,342.67 L235.08,342.67 L235.41,342.67 L235.75,342.67 L236.08,342.67 L236.41,342.68 L236.74,342.68 L237.07,342.68 L237.41,342.68 L237.74,342.68 L238.07,342.68 L238.41,342.68 L238.74,342.68 L239.07,342.68 L239.40,342.68 L239.74,342.68 L240.07,342.68 L240.40,342.69 L240.73,342.69 L241.06,342.69 L241.40,342.69 L241.73,342.69 L242.06,342.69 L242.40,342.69 L242.73,342.69 L243.06,342.69 L243.39,342.69 L243.73,342.69 L244.06,342.69 L244.39,342.69 L244.72,342.70 L245.06,342.70 L245.39,342.70 L245.72,342.70 L246.05,342.70 L246.38,342.70 L246.72,342.70 L247.05,342.70 L247.38,342.70 L247.72,342.70 L248.05,342.70 L248.38,342.70 L248.71,342.71 L249.05,342.71 L249.38,342.71 L249.71,342.71 L250.04,342.71 L250.38,342.71 L250.71,342.71 L251.04,342.71 L251.37,342.71 L251.70,342.71 L252.04,342.71 L252.37,342.71 L252.70,342.72 L253.04,342.72 L253.37,342.72 L253.70,342.72 L254.03,342.72 L254.37,342.72 L254.70,342.72 L255.03,342.72 L255.36,342.72 L255.69,342.72 L256.03,342.72 L256.36,342.72 L256.69,342.73 L257.03,342.73 L257.36,342.73 L257.69,342.73 L258.02,342.73 L258.36,342.73 L258.69,342.73 L259.02,342.73 L259.35,342.73 L259.69,342.73 L260.02,342.73 L260.35,342.73 L260.68,342.74 L261.01,342.74 L261.35,342.74 L261.68,342.74 L262.01,342.74 L262.35,342.74 L262.68,342.74 L263.01,342.74 L263.34,342.74 L263.68,342.74 L264.01,342.74 L264.34,342.74 L264.67,342.74 L265.00,342.75 L265.34,342.75 L265.67,342.75 L266.00,342.75 L266.34,342.75 L266.67,342.75 L267.00,342.75 L267.33,342.75 L267.67,342.75 L268.00,342.75 L268.33,342.75 L268.66,342.75 L269.00,342.76 L269.33,342.76 L269.66,342.76 L269.99,342.76 L270.32,342.76 L270.66,342.76 L270.99,342.76 L271.32,342.76 L271.66,342.76 L271.99,342.76 L272.32,342.76 L272.65,342.76 L272.99,342.77 L273.32,342.77 L273.65,342.77 L273.98,342.77 L274.31,342.77 L274.65,342.77 L274.98,342.77 L275.31,342.77 L275.65,342.77 L275.98,342.77 L276.31,342.77 L276.64,342.77 L276.98,342.78 L277.31,342.78 L277.64,342.78 L277.97,342.78 L278.31,342.78 L278.64,342.78 L278.97,342.78 L279.30,342.78 L279.63,342.78 L279.97,342.78 L280.30,342.78 L280.63,342.78 L280.97,342.79 L281.30,342.79 L281.63,342.79 L281.96,342.79 L282.30,342.79 L282.63,342.79 L282.96,342.79 L283.29,342.79 L283.62,342.79 L283.96,342.79 L284.29,342.79 L284.62,342.79 L284.95,342.80 L285.29,342.80 L285.62,342.80 L285.95,342.80 L286.29,342.80 L286.62,342.80 L286.95,342.80" fill="none" stroke="#7a7a7a" stroke-width="1.05" stroke-linejoin="round"/>
<path d="M120.70,269.42v3.60M121.70,269.82v3.60M122.70,270.35v3.60M123.69,270.90v3.60M124.69,271.51v3.60M125.69,272.26v3.60M126.69,273.11v3.60M127.68,274.00v3.60M128.68,274.85v3.60M129.68,275.57v3.60M130.68,276.15v3.60M131.67,276.85v3.60M132.67,278.65v3.60M133.67,282.53v3.60M134.66,288.44v3.60M135.66,296.94v3.60M136.66,306.91v3.60M137.66,315.90v3.60M138.66,323.29v3.60M139.65,328.64v3.60M140.65,331.86v3.60M141.65,334.21v3.60M142.65,336.04v3.60M143.64,337.08v3.60M144.64,337.68v3.60M145.64,338.21v3.60M146.63,338.73v3.60M147.63,339.25v3.60M148.63,339.70v3.60M149.63,339.96v3.60M150.62,340.06v3.60M151.62,340.13v3.60M152.62,340.19v3.60M153.62,340.25v3.60M154.62,340.31v3.60M155.61,340.38v3.60M156.61,340.44v3.60M157.61,340.50v3.60M158.61,340.56v3.60M159.60,340.62v3.60M160.60,340.67v3.60M161.60,340.69v3.60M162.59,340.69v3.60M163.59,340.70v3.60M164.59,340.70v3.60M165.59,340.70v3.60M166.59,340.70v3.60M167.58,340.71v3.60M168.58,340.71v3.60M169.58,340.71v3.60M170.57,340.71v3.60M171.57,340.72v3.60M172.57,340.72v3.60M173.57,340.72v3.60M174.56,340.72v3.60M175.56,340.72v3.60M176.56,340.73v3.60M177.56,340.73v3.60M178.56,340.73v3.60M179.55,340.73v3.60M180.55,340.74v3.60M181.55,340.74v3.60M182.55,340.74v3.60M183.54,340.74v3.60M184.54,340.75v3.60M185.54,340.75v3.60M186.54,340.75v3.60M187.53,340.75v3.60M188.53,340.76v3.60M189.53,340.76v3.60M190.53,340.76v3.60M191.52,340.76v3.60M192.52,340.77v3.60M193.52,340.77v3.60M194.51,340.77v3.60M195.51,340.77v3.60M196.51,340.78v3.60M197.51,340.78v3.60M198.50,340.78v3.60M199.50,340.78v3.60M200.50,340.79v3.60M201.50,340.79v3.60M202.50,340.79v3.60M203.49,340.79v3.60M204.49,340.80v3.60M205.49,340.80v3.60M206.49,340.80v3.60M207.48,340.80v3.60M208.48,340.81v3.60M209.48,340.81v3.60M210.48,340.81v3.60M211.47,340.81v3.60M212.47,340.82v3.60M213.47,340.82v3.60M214.47,340.82v3.60M215.46,340.82v3.60M216.46,340.83v3.60M217.46,340.83v3.60M218.46,340.83v3.60M219.45,340.83v3.60M220.45,340.84v3.60M221.45,340.84v3.60M222.44,340.84v3.60M223.44,340.84v3.60M224.44,340.85v3.60M225.44,340.85v3.60M226.44,340.85v3.60M227.43,340.85v3.60M228.43,340.86v3.60M229.43,340.86v3.60M230.43,340.86v3.60M231.42,340.86v3.60M232.42,340.87v3.60M233.42,340.87v3.60M234.42,340.87v3.60M235.41,340.87v3.60M236.41,340.88v3.60M237.41,340.88v3.60M238.41,340.88v3.60M239.40,340.88v3.60M240.40,340.89v3.60M241.40,340.89v3.60M242.40,340.89v3.60M243.39,340.89v3.60M244.39,340.89v3.60M245.39,340.90v3.60M246.38,340.90v3.60M247.38,340.90v3.60M248.38,340.90v3.60M249.38,340.91v3.60M250.38,340.91v3.60M251.37,340.91v3.60M252.37,340.91v3.60M253.37,340.92v3.60M254.37,340.92v3.60M255.36,340.92v3.60M256.36,340.92v3.60M257.36,340.93v3.60M258.36,340.93v3.60M259.35,340.93v3.60M260.35,340.93v3.60M261.35,340.94v3.60M262.35,340.94v3.60M263.34,340.94v3.60M264.34,340.94v3.60M265.34,340.95v3.60M266.34,340.95v3.60M267.33,340.95v3.60M268.33,340.95v3.60M269.33,340.96v3.60M270.32,340.96v3.60M271.32,340.96v3.60M272.32,340.96v3.60M273.32,340.97v3.60M274.31,340.97v3.60M275.31,340.97v3.60M276.31,340.97v3.60M277.31,340.98v3.60M278.31,340.98v3.60M279.30,340.98v3.60M280.30,340.98v3.60M281.30,340.99v3.60M282.30,340.99v3.60M283.29,340.99v3.60M284.29,340.99v3.60M285.29,341.00v3.60M286.29,341.00v3.60" fill="none" stroke="#7a7a7a" stroke-width="0.75"/>
<path d="M120.70,342.65 L121.03,342.56 L121.37,342.44 L121.70,342.31 L122.03,342.17 L122.36,342.02 L122.70,341.86 L123.03,341.71 L123.36,341.55 L123.69,341.40 L124.03,341.24 L124.36,341.08 L124.69,340.93 L125.02,340.77 L125.36,340.61 L125.69,340.45 L126.02,340.27 L126.35,340.05 L126.69,339.78 L127.02,339.43 L127.35,338.97 L127.68,338.39 L128.02,337.71 L128.35,336.94 L128.68,336.12 L129.01,335.27 L129.34,334.39 L129.68,333.51 L130.01,332.61 L130.34,331.67 L130.68,330.65 L131.01,329.50 L131.34,328.15 L131.67,326.55 L132.00,324.67 L132.34,322.54 L132.67,320.21 L133.00,317.75 L133.34,315.21 L133.67,312.62 L134.00,310.02 L134.33,307.40 L134.66,304.77 L135.00,302.11 L135.33,299.44 L135.66,296.75 L136.00,294.07 L136.33,291.43 L136.66,288.88 L136.99,286.50 L137.32,284.37 L137.66,282.58 L137.99,281.16 L138.32,280.09 L138.66,279.33 L138.99,278.82 L139.32,278.50 L139.65,278.35 L139.99,278.31 L140.32,278.36 L140.65,278.46 L140.98,278.58 L141.31,278.72 L141.65,278.84 L141.98,278.93 L142.31,278.97 L142.65,278.95 L142.98,278.86 L143.31,278.70 L143.64,278.47 L143.97,278.18 L144.31,277.82 L144.64,277.39 L144.97,276.88 L145.31,276.32 L145.64,275.70 L145.97,275.06 L146.30,274.39 L146.63,273.72 L146.97,273.04 L147.30,272.36 L147.63,271.67 L147.97,270.99 L148.30,270.29 L148.63,269.58 L148.96,268.86 L149.30,268.12 L149.63,267.37 L149.96,266.61 L150.29,265.83 L150.62,265.06 L150.96,264.28 L151.29,263.50 L151.62,262.72 L151.96,261.94 L152.29,261.17 L152.62,260.41 L152.95,259.68 L153.28,258.97 L153.62,258.30 L153.95,257.67 L154.28,257.08 L154.62,256.51 L154.95,255.97 L155.28,255.44 L155.61,254.92 L155.94,254.40 L156.28,253.88 L156.61,253.36 L156.94,252.85 L157.28,252.33 L157.61,251.82 L157.94,251.32 L158.27,250.82 L158.61,250.33 L158.94,249.85 L159.27,249.36 L159.60,248.88 L159.94,248.40 L160.27,247.92 L160.60,247.44 L160.93,246.97 L161.27,246.50 L161.60,246.05 L161.93,245.61 L162.26,245.20 L162.59,244.81 L162.93,244.45 L163.26,244.10 L163.59,243.77 L163.93,243.44 L164.26,243.12 L164.59,242.80 L164.92,242.48 L165.25,242.17 L165.59,241.87 L165.92,241.58 L166.25,241.31 L166.59,241.08 L166.92,240.87 L167.25,240.70 L167.58,240.55 L167.92,240.41 L168.25,240.28 L168.58,240.16 L168.91,240.04 L169.25,239.92 L169.58,239.80 L169.91,239.69 L170.24,239.59 L170.57,239.49 L170.91,239.41 L171.24,239.34 L171.57,239.29 L171.91,239.25 L172.24,239.22 L172.57,239.18 L172.90,239.16 L173.24,239.13 L173.57,239.10 L173.90,239.07 L174.23,239.05 L174.56,239.02 L174.90,238.99 L175.23,238.96 L175.56,238.94 L175.90,238.91 L176.23,238.89 L176.56,238.86 L176.89,238.84 L177.23,238.83 L177.56,238.82 L177.89,238.81 L178.22,238.80 L178.56,238.80 L178.89,238.80 L179.22,238.80 L179.55,238.80 L179.88,238.80 L180.22,238.80 L180.55,238.80 L180.88,238.80 L181.22,238.80 L181.55,238.80 L181.88,238.80 L182.21,238.80 L182.55,238.80 L182.88,238.80 L183.21,238.80 L183.54,238.80 L183.88,238.80 L184.21,238.80 L184.54,238.80 L184.87,238.80 L185.21,238.80 L185.54,238.80 L185.87,238.80 L186.20,238.80 L186.54,238.80 L186.87,238.80 L187.20,238.80 L187.53,238.80 L187.87,238.80 L188.20,238.80 L188.53,238.80 L188.86,238.80 L189.19,238.80 L189.53,238.80 L189.86,238.80 L190.19,238.80 L190.53,238.80 L190.86,238.80 L191.19,238.80 L191.52,238.80 L191.86,238.80 L192.19,238.80 L192.52,238.80 L192.85,238.80 L193.19,238.80 L193.52,238.80 L193.85,238.80 L194.18,238.80 L194.51,238.80 L194.85,238.80 L195.18,238.80 L195.51,238.80 L195.85,238.80 L196.18,238.80 L196.51,238.80 L196.84,238.80 L197.18,238.80 L197.51,238.80 L197.84,238.80 L198.17,238.80 L198.50,238.80 L198.84,238.80 L199.17,238.80 L199.50,238.80 L199.84,238.80 L200.17,238.80 L200.50,238.80 L200.83,238.80 L201.17,238.80 L201.50,238.80 L201.83,238.80 L202.16,238.80 L202.50,238.80 L202.83,238.80 L203.16,238.80 L203.49,238.80 L203.82,238.80 L204.16,238.80 L204.49,238.80 L204.82,238.80 L205.16,238.80 L205.49,238.80 L205.82,238.80 L206.15,238.80 L206.49,238.80 L206.82,238.80 L207.15,238.80 L207.48,238.80 L207.81,238.80 L208.15,238.80 L208.48,238.80 L208.81,238.80 L209.15,238.80 L209.48,238.80 L209.81,238.80 L210.14,238.80 L210.48,238.80 L210.81,238.80 L211.14,238.80 L211.47,238.80 L211.81,238.80 L212.14,238.80 L212.47,238.80 L212.80,238.80 L213.13,238.80 L213.47,238.80 L213.80,238.80 L214.13,238.80 L214.47,238.80 L214.80,238.80 L215.13,238.80 L215.46,238.80 L215.80,238.80 L216.13,238.80 L216.46,238.80 L216.79,238.80 L217.12,238.80 L217.46,238.80 L217.79,238.80 L218.12,238.80 L218.46,238.80 L218.79,238.80 L219.12,238.80 L219.45,238.80 L219.79,238.80 L220.12,238.80 L220.45,238.80 L220.78,238.80 L221.12,238.80 L221.45,238.80 L221.78,238.80 L222.11,238.80 L222.44,238.80 L222.78,238.80 L223.11,238.80 L223.44,238.80 L223.78,238.80 L224.11,238.80 L224.44,238.80 L224.77,238.80 L225.11,238.80 L225.44,238.80 L225.77,238.80 L226.10,238.80 L226.44,238.80 L226.77,238.80 L227.10,238.80 L227.43,238.80 L227.77,238.80 L228.10,238.80 L228.43,238.80 L228.76,238.80 L229.10,238.80 L229.43,238.80 L229.76,238.80 L230.09,238.80 L230.43,238.80 L230.76,238.80 L231.09,238.80 L231.42,238.80 L231.75,238.80 L232.09,238.80 L232.42,238.80 L232.75,238.80 L233.09,238.80 L233.42,238.80 L233.75,238.80 L234.08,238.80 L234.42,238.80 L234.75,238.80 L235.08,238.80 L235.41,238.80 L235.75,238.80 L236.08,238.80 L236.41,238.80 L236.74,238.80 L237.07,238.80 L237.41,238.80 L237.74,238.80 L238.07,238.80 L238.41,238.80 L238.74,238.80 L239.07,238.80 L239.40,238.80 L239.74,238.80 L240.07,238.80 L240.40,238.80 L240.73,238.80 L241.06,238.80 L241.40,238.80 L241.73,238.80 L242.06,238.80 L242.40,238.80 L242.73,238.80 L243.06,238.80 L243.39,238.80 L243.73,238.80 L244.06,238.80 L244.39,238.80 L244.72,238.80 L245.06,238.80 L245.39,238.80 L245.72,238.80 L246.05,238.80 L246.38,238.80 L246.72,238.80 L247.05,238.80 L247.38,238.80 L247.72,238.80 L248.05,238.80 L248.38,238.80 L248.71,238.80 L249.05,238.80 L249.38,238.80 L249.71,238.80 L250.04,238.80 L250.38,238.80 L250.71,238.80 L251.04,238.80 L251.37,238.80 L251.70,238.80 L252.04,238.80 L252.37,238.80 L252.70,238.80 L253.04,238.80 L253.37,238.80 L253.70,238.80 L254.03,238.80 L254.37,238.80 L254.70,238.80 L255.03,238.80 L255.36,238.80 L255.69,238.80 L256.03,238.80 L256.36,238.80 L256.69,238.80 L257.03,238.80 L257.36,238.80 L257.69,238.80 L258.02,238.80 L258.36,238.80 L258.69,238.80 L259.02,238.80 L259.35,238.80 L259.69,238.80 L260.02,238.80 L260.35,238.80 L260.68,238.80 L261.01,238.80 L261.35,238.80 L261.68,238.80 L262.01,238.80 L262.35,238.80 L262.68,238.80 L263.01,238.80 L263.34,238.80 L263.68,238.80 L264.01,238.80 L264.34,238.80 L264.67,238.80 L265.00,238.80 L265.34,238.80 L265.67,238.80 L266.00,238.80 L266.34,238.80 L266.67,238.80 L267.00,238.80 L267.33,238.80 L267.67,238.80 L268.00,238.80 L268.33,238.80 L268.66,238.80 L269.00,238.80 L269.33,238.80 L269.66,238.80 L269.99,238.80 L270.32,238.80 L270.66,238.80 L270.99,238.80 L271.32,238.80 L271.66,238.80 L271.99,238.80 L272.32,238.80 L272.65,238.80 L272.99,238.81 L273.32,238.81 L273.65,238.83 L273.98,238.84 L274.31,238.86 L274.65,238.88 L274.98,238.91 L275.31,238.93 L275.65,238.96 L275.98,238.98 L276.31,239.01 L276.64,239.03 L276.98,239.06 L277.31,239.09 L277.64,239.11 L277.97,239.14 L278.31,239.16 L278.64,239.19 L278.97,239.22 L279.30,239.24 L279.63,239.27 L279.97,239.29 L280.30,239.32 L280.63,239.35 L280.97,239.37 L281.30,239.40 L281.63,239.42 L281.96,239.45 L282.30,239.48 L282.63,239.50 L282.96,239.53 L283.29,239.55 L283.62,239.58 L283.96,239.61 L284.29,239.63 L284.62,239.66 L284.95,239.68 L285.29,239.71 L285.62,239.73 L285.95,239.76 L286.29,239.78 L286.62,239.80 L286.95,239.81" fill="none" stroke="#1414ff" stroke-width="1.2" stroke-linejoin="round"/>
<path d="M120.70,340.85v3.60M121.70,340.51v3.60M122.70,340.06v3.60M123.69,339.60v3.60M124.69,339.13v3.60M125.69,338.65v3.60M126.69,337.98v3.60M127.68,336.59v3.60M128.68,334.32v3.60M129.68,331.71v3.60M130.68,328.85v3.60M131.67,324.75v3.60M132.67,318.41v3.60M133.67,310.82v3.60M134.66,302.97v3.60M135.66,294.95v3.60M136.66,287.08v3.60M137.66,280.78v3.60M138.66,277.53v3.60M139.65,276.55v3.60M140.65,276.66v3.60M141.65,277.04v3.60M142.65,277.15v3.60M143.64,276.67v3.60M144.64,275.59v3.60M145.64,273.90v3.60M146.63,271.92v3.60M147.63,269.87v3.60M148.63,267.78v3.60M149.63,265.57v3.60M150.62,263.26v3.60M151.62,260.92v3.60M152.62,258.61v3.60M153.62,256.50v3.60M154.62,254.71v3.60M155.61,253.12v3.60M156.61,251.56v3.60M157.61,250.02v3.60M158.61,248.53v3.60M159.60,247.08v3.60M160.60,245.64v3.60M161.60,244.25v3.60M162.59,243.01v3.60M163.59,241.97v3.60M164.59,241.00v3.60M165.59,240.07v3.60M166.59,239.28v3.60M167.58,238.75v3.60M168.58,238.36v3.60M169.58,238.00v3.60M170.57,237.69v3.60M171.57,237.49v3.60M172.57,237.38v3.60M173.57,237.30v3.60M174.56,237.22v3.60M175.56,237.14v3.60M176.56,237.06v3.60M177.56,237.02v3.60M178.56,237.00v3.60M179.55,237.00v3.60M180.55,237.00v3.60M181.55,237.00v3.60M182.55,237.00v3.60M183.54,237.00v3.60M184.54,237.00v3.60M185.54,237.00v3.60M186.54,237.00v3.60M187.53,237.00v3.60M188.53,237.00v3.60M189.53,237.00v3.60M190.53,237.00v3.60M191.52,237.00v3.60M192.52,237.00v3.60M193.52,237.00v3.60M194.51,237.00v3.60M195.51,237.00v3.60M196.51,237.00v3.60M197.51,237.00v3.60M198.50,237.00v3.60M199.50,237.00v3.60M200.50,237.00v3.60M201.50,237.00v3.60M202.50,237.00v3.60M203.49,237.00v3.60M204.49,237.00v3.60M205.49,237.00v3.60M206.49,237.00v3.60M207.48,237.00v3.60M208.48,237.00v3.60M209.48,237.00v3.60M210.48,237.00v3.60M211.47,237.00v3.60M212.47,237.00v3.60M213.47,237.00v3.60M214.47,237.00v3.60M215.46,237.00v3.60M216.46,237.00v3.60M217.46,237.00v3.60M218.46,237.00v3.60M219.45,237.00v3.60M220.45,237.00v3.60M221.45,237.00v3.60M222.44,237.00v3.60M223.44,237.00v3.60M224.44,237.00v3.60M225.44,237.00v3.60M226.44,237.00v3.60M227.43,237.00v3.60M228.43,237.00v3.60M229.43,237.00v3.60M230.43,237.00v3.60M231.42,237.00v3.60M232.42,237.00v3.60M233.42,237.00v3.60M234.42,237.00v3.60M235.41,237.00v3.60M236.41,237.00v3.60M237.41,237.00v3.60M238.41,237.00v3.60M239.40,237.00v3.60M240.40,237.00v3.60M241.40,237.00v3.60M242.40,237.00v3.60M243.39,237.00v3.60M244.39,237.00v3.60M245.39,237.00v3.60M246.38,237.00v3.60M247.38,237.00v3.60M248.38,237.00v3.60M249.38,237.00v3.60M250.38,237.00v3.60M251.37,237.00v3.60M252.37,237.00v3.60M253.37,237.00v3.60M254.37,237.00v3.60M255.36,237.00v3.60M256.36,237.00v3.60M257.36,237.00v3.60M258.36,237.00v3.60M259.35,237.00v3.60M260.35,237.00v3.60M261.35,237.00v3.60M262.35,237.00v3.60M263.34,237.00v3.60M264.34,237.00v3.60M265.34,237.00v3.60M266.34,237.00v3.60M267.33,237.00v3.60M268.33,237.00v3.60M269.33,237.00v3.60M270.32,237.00v3.60M271.32,237.00v3.60M272.32,237.00v3.60M273.32,237.01v3.60M274.31,237.06v3.60M275.31,237.13v3.60M276.31,237.21v3.60M277.31,237.29v3.60M278.31,237.36v3.60M279.30,237.44v3.60M280.30,237.52v3.60M281.30,237.60v3.60M282.30,237.68v3.60M283.29,237.75v3.60M284.29,237.83v3.60M285.29,237.91v3.60M286.29,237.98v3.60" fill="none" stroke="#1414ff" stroke-width="0.75"/>
<circle cx="297.40" cy="222.1" r="1.25" fill="#3a3a3a"/>
<circle cx="302.25" cy="222.1" r="1.25" fill="#3a3a3a"/>
<circle cx="307.10" cy="222.1" r="1.25" fill="#3a3a3a"/>
<rect x="109" y="381" width="189" height="23.6" fill="#ffffff"/>
<text x="110.5" y="389" font-size="10" fill="#262626">Rs</text>
<text x="110.5" y="397.5" font-size="10" fill="#262626">Rp</text>
<text x="159" y="393.5" font-size="10" fill="#262626">Ra</text>
<text x="174" y="388" font-size="10" fill="#262626">As</text>
<text x="221" y="398" font-size="10" fill="#262626">Ap</text>
<text x="238.5" y="393" font-size="10" fill="#262626">Ta</text>
<text x="284.5" y="388" font-size="10" fill="#262626">Ts</text>
<text x="285" y="397.5" font-size="10" fill="#262626">Tp</text>
<line x1="124.8" y1="386" x2="156.5" y2="386" stroke="#e8161b" stroke-width="1.4"/>
<line x1="124.8" y1="384" x2="124.8" y2="388" stroke="#e8161b" stroke-width="1.1"/>
<line x1="140.65" y1="384" x2="140.65" y2="388" stroke="#e8161b" stroke-width="1.1"/>
<line x1="156.5" y1="384" x2="156.5" y2="388" stroke="#e8161b" stroke-width="1.1"/>
<line x1="124.8" y1="390.7" x2="156.5" y2="390.7" stroke="#e8161b" stroke-width="1.6"/>
<line x1="124.8" y1="395.6" x2="156.5" y2="395.6" stroke="#e8161b" stroke-width="1.5" stroke-dasharray="6.6,6.8"/>
<line x1="187.8" y1="386" x2="219.3" y2="386" stroke="#7a7a7a" stroke-width="1.3"/>
<line x1="187.8" y1="384" x2="187.8" y2="388" stroke="#7a7a7a" stroke-width="1.1"/>
<line x1="203.55" y1="384" x2="203.55" y2="388" stroke="#7a7a7a" stroke-width="1.1"/>
<line x1="219.3" y1="384" x2="219.3" y2="388" stroke="#7a7a7a" stroke-width="1.1"/>
<line x1="187.8" y1="395.6" x2="219.3" y2="395.6" stroke="#7a7a7a" stroke-width="1.5" stroke-dasharray="6.6,6.8"/>
<line x1="251" y1="386" x2="282.8" y2="386" stroke="#1010ff" stroke-width="1.4"/>
<line x1="251" y1="384" x2="251" y2="388" stroke="#1010ff" stroke-width="1.1"/>
<line x1="266.9" y1="384" x2="266.9" y2="388" stroke="#1010ff" stroke-width="1.1"/>
<line x1="282.8" y1="384" x2="282.8" y2="388" stroke="#1010ff" stroke-width="1.1"/>
<line x1="251" y1="390.7" x2="282.8" y2="390.7" stroke="#1010ff" stroke-width="1.6"/>
<line x1="251" y1="395.6" x2="282.8" y2="395.6" stroke="#1010ff" stroke-width="1.5" stroke-dasharray="6.6,6.8"/>
<rect x="109.4" y="432.6" width="188.9" height="118.89999999999998" fill="#ffffff"/>
<line x1="109.4" y1="432.6" x2="109.4" y2="551.5" stroke="#8a8a8a" stroke-width="1.1"/>
<line x1="109.4" y1="551.5" x2="298.3" y2="551.5" stroke="#8a8a8a" stroke-width="1.1"/>
<line x1="109.4" y1="543.8" x2="111.60000000000001" y2="543.8" stroke="#777" stroke-width="0.8"/>
<text x="105.8" y="547.3" font-size="10" fill="#404040" text-anchor="end" textLength="5.39" lengthAdjust="spacingAndGlyphs">0</text>
<line x1="109.4" y1="523.04" x2="111.60000000000001" y2="523.04" stroke="#777" stroke-width="0.8"/>
<text x="105.8" y="526.54" font-size="10" fill="#404040" text-anchor="end" textLength="13.48" lengthAdjust="spacingAndGlyphs">0.2</text>
<line x1="109.4" y1="502.28" x2="111.60000000000001" y2="502.28" stroke="#777" stroke-width="0.8"/>
<text x="105.8" y="505.78" font-size="10" fill="#404040" text-anchor="end" textLength="13.48" lengthAdjust="spacingAndGlyphs">0.4</text>
<line x1="109.4" y1="481.52" x2="111.60000000000001" y2="481.52" stroke="#777" stroke-width="0.8"/>
<text x="105.8" y="485.02" font-size="10" fill="#404040" text-anchor="end" textLength="13.48" lengthAdjust="spacingAndGlyphs">0.6</text>
<line x1="109.4" y1="460.75999999999993" x2="111.60000000000001" y2="460.75999999999993" stroke="#777" stroke-width="0.8"/>
<text x="105.8" y="464.25999999999993" font-size="10" fill="#404040" text-anchor="end" textLength="13.48" lengthAdjust="spacingAndGlyphs">0.8</text>
<line x1="109.4" y1="439.99999999999994" x2="111.60000000000001" y2="439.99999999999994" stroke="#777" stroke-width="0.8"/>
<text x="105.8" y="443.49999999999994" font-size="10" fill="#404040" text-anchor="end" textLength="5.39" lengthAdjust="spacingAndGlyphs">1</text>
<line x1="121.0" y1="551.5" x2="121.0" y2="549.3" stroke="#777" stroke-width="0.8"/>
<text x="121.0" y="563.3" font-size="10" fill="#404040" text-anchor="middle" textLength="5.39" lengthAdjust="spacingAndGlyphs">0</text>
<line x1="176.25" y1="551.5" x2="176.25" y2="549.3" stroke="#777" stroke-width="0.8"/>
<text x="176.25" y="563.3" font-size="10" fill="#404040" text-anchor="middle" textLength="5.39" lengthAdjust="spacingAndGlyphs">5</text>
<line x1="231.5" y1="551.5" x2="231.5" y2="549.3" stroke="#777" stroke-width="0.8"/>
<text x="231.5" y="563.3" font-size="10" fill="#404040" text-anchor="middle" textLength="10.79" lengthAdjust="spacingAndGlyphs">10</text>
<line x1="286.75" y1="551.5" x2="286.75" y2="549.3" stroke="#777" stroke-width="0.8"/>
<text x="286.75" y="563.3" font-size="10" fill="#404040" text-anchor="middle" textLength="10.79" lengthAdjust="spacingAndGlyphs">15</text>
<text x="203.5" y="575.3" font-size="10.8" fill="#262626" text-anchor="middle">θ</text>
<text x="89" y="491.5" font-size="10.8" fill="#262626" text-anchor="middle" textLength="27.5" lengthAdjust="spacingAndGlyphs" transform="rotate(-90 89 491.5)">T/R/A</text>
<text x="239.5" y="464" font-size="10.7" fill="#303030" textLength="47.5" lengthAdjust="spacingAndGlyphs">λ=588 nm</text>
<path d="M121.00,542.87 L123.76,542.87 L126.53,542.87 L129.29,542.87 L132.05,542.87 L134.81,542.87 L137.57,542.87 L140.34,542.87 L143.10,542.87 L145.86,542.87 L148.62,542.87 L151.39,542.87 L154.15,542.87 L156.91,542.87 L159.68,542.87 L162.44,542.87 L165.20,542.87 L167.96,542.87 L170.72,542.87 L173.49,542.87 L176.25,542.87 L179.01,542.87 L181.78,542.87 L184.54,542.87 L187.30,542.87 L190.06,542.87 L192.82,542.87 L195.59,542.87 L198.35,542.87 L201.11,542.87 L203.88,542.87 L206.64,542.87 L209.40,542.87 L212.16,542.87 L214.93,542.87 L217.69,542.87 L220.45,542.87 L223.21,542.87 L225.98,542.87 L228.74,542.87 L231.50,542.87 L234.26,542.87 L237.03,542.87 L239.79,542.87 L242.55,542.87 L245.31,542.87 L248.07,542.87 L250.84,542.87 L253.60,542.87 L256.36,542.87 L259.12,542.87 L261.89,542.87 L264.65,542.87 L267.41,542.87 L270.18,542.87 L272.94,542.87 L275.70,542.87 L278.46,542.87 L281.23,542.87 L283.99,542.87 L286.75,542.87" fill="none" stroke="#e08a8a" stroke-width="1.0"/>
<path d="M121.00,540.67v4.40M119.80,542.87h2.40M123.76,540.67v4.40M122.56,542.87h2.40M126.53,540.67v4.40M125.33,542.87h2.40M129.29,540.67v4.40M128.09,542.87h2.40M132.05,540.67v4.40M130.85,542.87h2.40M134.81,540.67v4.40M133.61,542.87h2.40M137.57,540.67v4.40M136.38,542.87h2.40M140.34,540.67v4.40M139.14,542.87h2.40M143.10,540.67v4.40M141.90,542.87h2.40M145.86,540.67v4.40M144.66,542.87h2.40M148.62,540.67v4.40M147.43,542.87h2.40M151.39,540.67v4.40M150.19,542.87h2.40M154.15,540.67v4.40M152.95,542.87h2.40M156.91,540.67v4.40M155.71,542.87h2.40M159.68,540.67v4.40M158.48,542.87h2.40M162.44,540.67v4.40M161.24,542.87h2.40M165.20,540.67v4.40M164.00,542.87h2.40M167.96,540.67v4.40M166.76,542.87h2.40M170.72,540.67v4.40M169.53,542.87h2.40M173.49,540.67v4.40M172.29,542.87h2.40M176.25,540.67v4.40M175.05,542.87h2.40M179.01,540.67v4.40M177.81,542.87h2.40M181.78,540.67v4.40M180.58,542.87h2.40M184.54,540.67v4.40M183.34,542.87h2.40M187.30,540.67v4.40M186.10,542.87h2.40M190.06,540.67v4.40M188.86,542.87h2.40M192.82,540.67v4.40M191.62,542.87h2.40M195.59,540.67v4.40M194.39,542.87h2.40M198.35,540.67v4.40M197.15,542.87h2.40M201.11,540.67v4.40M199.91,542.87h2.40M203.88,540.67v4.40M202.68,542.87h2.40M206.64,540.67v4.40M205.44,542.87h2.40M209.40,540.67v4.40M208.20,542.87h2.40M212.16,540.67v4.40M210.96,542.87h2.40M214.93,540.67v4.40M213.73,542.87h2.40M217.69,540.67v4.40M216.49,542.87h2.40M220.45,540.67v4.40M219.25,542.87h2.40M223.21,540.67v4.40M222.01,542.87h2.40M225.98,540.67v4.40M224.78,542.87h2.40M228.74,540.67v4.40M227.54,542.87h2.40M231.50,540.67v4.40M230.30,542.87h2.40M234.26,540.67v4.40M233.06,542.87h2.40M237.03,540.67v4.40M235.83,542.87h2.40M239.79,540.67v4.40M238.59,542.87h2.40M242.55,540.67v4.40M241.35,542.87h2.40M245.31,540.67v4.40M244.11,542.87h2.40M248.07,540.67v4.40M246.88,542.87h2.40M250.84,540.67v4.40M249.64,542.87h2.40M253.60,540.67v4.40M252.40,542.87h2.40M256.36,540.67v4.40M255.16,542.87h2.40M259.12,540.67v4.40M257.93,542.87h2.40M261.89,540.67v4.40M260.69,542.87h2.40M264.65,540.67v4.40M263.45,542.87h2.40M267.41,540.67v4.40M266.21,542.87h2.40M270.18,540.67v4.40M268.98,542.87h2.40M272.94,540.67v4.40M271.74,542.87h2.40M275.70,540.67v4.40M274.50,542.87h2.40M278.46,540.67v4.40M277.26,542.87h2.40M281.23,540.67v4.40M280.03,542.87h2.40M283.99,540.67v4.40M282.79,542.87h2.40M286.75,540.67v4.40M285.55,542.87h2.40" fill="none" stroke="#e08a8a" stroke-width="0.8"/>
<path d="M121.00,543.80 L123.76,543.80 L126.53,543.80 L129.29,543.80 L132.05,543.80 L134.81,543.80 L137.57,543.80 L140.34,543.80 L143.10,543.80 L145.86,543.80 L148.62,543.80 L151.39,543.80 L154.15,543.80 L156.91,543.80 L159.68,543.80 L162.44,543.80 L165.20,543.80 L167.96,543.80 L170.72,543.80 L173.49,543.80 L176.25,543.80 L179.01,543.80 L181.78,543.80 L184.54,543.80 L187.30,543.80 L190.06,543.80 L192.82,543.80 L195.59,543.80 L198.35,543.80 L201.11,543.80 L203.88,543.80 L206.64,543.80 L209.40,543.80 L212.16,543.80 L214.93,543.80 L217.69,543.80 L220.45,543.80 L223.21,543.80 L225.98,543.80 L228.74,543.80 L231.50,543.80 L234.26,543.80 L237.03,543.80 L239.79,543.80 L242.55,543.80 L245.31,543.80 L248.07,543.80 L250.84,543.80 L253.60,543.80 L256.36,543.80 L259.12,543.80 L261.89,543.80 L264.65,543.80 L267.41,543.80 L270.18,543.80 L272.94,543.80 L275.70,543.80 L278.46,543.80 L281.23,543.80 L283.99,543.80 L286.75,543.80" fill="none" stroke="#858585" stroke-width="1.6"/>
<path d="M121.00,541.60v4.40M119.80,543.80h2.40M123.76,541.60v4.40M122.56,543.80h2.40M126.53,541.60v4.40M125.33,543.80h2.40M129.29,541.60v4.40M128.09,543.80h2.40M132.05,541.60v4.40M130.85,543.80h2.40M134.81,541.60v4.40M133.61,543.80h2.40M137.57,541.60v4.40M136.38,543.80h2.40M140.34,541.60v4.40M139.14,543.80h2.40M143.10,541.60v4.40M141.90,543.80h2.40M145.86,541.60v4.40M144.66,543.80h2.40M148.62,541.60v4.40M147.43,543.80h2.40M151.39,541.60v4.40M150.19,543.80h2.40M154.15,541.60v4.40M152.95,543.80h2.40M156.91,541.60v4.40M155.71,543.80h2.40M159.68,541.60v4.40M158.48,543.80h2.40M162.44,541.60v4.40M161.24,543.80h2.40M165.20,541.60v4.40M164.00,543.80h2.40M167.96,541.60v4.40M166.76,543.80h2.40M170.72,541.60v4.40M169.53,543.80h2.40M173.49,541.60v4.40M172.29,543.80h2.40M176.25,541.60v4.40M175.05,543.80h2.40M179.01,541.60v4.40M177.81,543.80h2.40M181.78,541.60v4.40M180.58,543.80h2.40M184.54,541.60v4.40M183.34,543.80h2.40M187.30,541.60v4.40M186.10,543.80h2.40M190.06,541.60v4.40M188.86,543.80h2.40M192.82,541.60v4.40M191.62,543.80h2.40M195.59,541.60v4.40M194.39,543.80h2.40M198.35,541.60v4.40M197.15,543.80h2.40M201.11,541.60v4.40M199.91,543.80h2.40M203.88,541.60v4.40M202.68,543.80h2.40M206.64,541.60v4.40M205.44,543.80h2.40M209.40,541.60v4.40M208.20,543.80h2.40M212.16,541.60v4.40M210.96,543.80h2.40M214.93,541.60v4.40M213.73,543.80h2.40M217.69,541.60v4.40M216.49,543.80h2.40M220.45,541.60v4.40M219.25,543.80h2.40M223.21,541.60v4.40M222.01,543.80h2.40M225.98,541.60v4.40M224.78,543.80h2.40M228.74,541.60v4.40M227.54,543.80h2.40M231.50,541.60v4.40M230.30,543.80h2.40M234.26,541.60v4.40M233.06,543.80h2.40M237.03,541.60v4.40M235.83,543.80h2.40M239.79,541.60v4.40M238.59,543.80h2.40M242.55,541.60v4.40M241.35,543.80h2.40M245.31,541.60v4.40M244.11,543.80h2.40M248.07,541.60v4.40M246.88,543.80h2.40M250.84,541.60v4.40M249.64,543.80h2.40M253.60,541.60v4.40M252.40,543.80h2.40M256.36,541.60v4.40M255.16,543.80h2.40M259.12,541.60v4.40M257.93,543.80h2.40M261.89,541.60v4.40M260.69,543.80h2.40M264.65,541.60v4.40M263.45,543.80h2.40M267.41,541.60v4.40M266.21,543.80h2.40M270.18,541.60v4.40M268.98,543.80h2.40M272.94,541.60v4.40M271.74,543.80h2.40M275.70,541.60v4.40M274.50,543.80h2.40M278.46,541.60v4.40M277.26,543.80h2.40M281.23,541.60v4.40M280.03,543.80h2.40M283.99,541.60v4.40M282.79,543.80h2.40M286.75,541.60v4.40M285.55,543.80h2.40" fill="none" stroke="#858585" stroke-width="0.8"/>
<path d="M121.00,440.42 L123.76,440.42 L126.53,440.42 L129.29,440.42 L132.05,440.42 L134.81,440.42 L137.57,440.42 L140.34,440.42 L143.10,440.42 L145.86,440.42 L148.62,440.42 L151.39,440.42 L154.15,440.42 L156.91,440.42 L159.68,440.42 L162.44,440.42 L165.20,440.42 L167.96,440.42 L170.72,440.42 L173.49,440.42 L176.25,440.42 L179.01,440.42 L181.78,440.42 L184.54,440.42 L187.30,440.42 L190.06,440.42 L192.82,440.42 L195.59,440.42 L198.35,440.42 L201.11,440.42 L203.88,440.42 L206.64,440.42 L209.40,440.42 L212.16,440.42 L214.93,440.42 L217.69,440.42 L220.45,440.42 L223.21,440.42 L225.98,440.42 L228.74,440.42 L231.50,440.42 L234.26,440.42 L237.03,440.42 L239.79,440.42 L242.55,440.42 L245.31,440.42 L248.07,440.42 L250.84,440.42 L253.60,440.42 L256.36,440.42 L259.12,440.42 L261.89,440.42 L264.65,440.42 L267.41,440.42 L270.18,440.42 L272.94,440.42 L275.70,440.42 L278.46,440.42 L281.23,440.42 L283.99,440.42 L286.75,440.42" fill="none" stroke="#1818ff" stroke-width="1.8"/>
<path d="M121.00,438.22v4.40M119.80,440.42h2.40M123.76,438.22v4.40M122.56,440.42h2.40M126.53,438.22v4.40M125.33,440.42h2.40M129.29,438.22v4.40M128.09,440.42h2.40M132.05,438.22v4.40M130.85,440.42h2.40M134.81,438.22v4.40M133.61,440.42h2.40M137.57,438.22v4.40M136.38,440.42h2.40M140.34,438.22v4.40M139.14,440.42h2.40M143.10,438.22v4.40M141.90,440.42h2.40M145.86,438.22v4.40M144.66,440.42h2.40M148.62,438.22v4.40M147.43,440.42h2.40M151.39,438.22v4.40M150.19,440.42h2.40M154.15,438.22v4.40M152.95,440.42h2.40M156.91,438.22v4.40M155.71,440.42h2.40M159.68,438.22v4.40M158.48,440.42h2.40M162.44,438.22v4.40M161.24,440.42h2.40M165.20,438.22v4.40M164.00,440.42h2.40M167.96,438.22v4.40M166.76,440.42h2.40M170.72,438.22v4.40M169.53,440.42h2.40M173.49,438.22v4.40M172.29,440.42h2.40M176.25,438.22v4.40M175.05,440.42h2.40M179.01,438.22v4.40M177.81,440.42h2.40M181.78,438.22v4.40M180.58,440.42h2.40M184.54,438.22v4.40M183.34,440.42h2.40M187.30,438.22v4.40M186.10,440.42h2.40M190.06,438.22v4.40M188.86,440.42h2.40M192.82,438.22v4.40M191.62,440.42h2.40M195.59,438.22v4.40M194.39,440.42h2.40M198.35,438.22v4.40M197.15,440.42h2.40M201.11,438.22v4.40M199.91,440.42h2.40M203.88,438.22v4.40M202.68,440.42h2.40M206.64,438.22v4.40M205.44,440.42h2.40M209.40,438.22v4.40M208.20,440.42h2.40M212.16,438.22v4.40M210.96,440.42h2.40M214.93,438.22v4.40M213.73,440.42h2.40M217.69,438.22v4.40M216.49,440.42h2.40M220.45,438.22v4.40M219.25,440.42h2.40M223.21,438.22v4.40M222.01,440.42h2.40M225.98,438.22v4.40M224.78,440.42h2.40M228.74,438.22v4.40M227.54,440.42h2.40M231.50,438.22v4.40M230.30,440.42h2.40M234.26,438.22v4.40M233.06,440.42h2.40M237.03,438.22v4.40M235.83,440.42h2.40M239.79,438.22v4.40M238.59,440.42h2.40M242.55,438.22v4.40M241.35,440.42h2.40M245.31,438.22v4.40M244.11,440.42h2.40M248.07,438.22v4.40M246.88,440.42h2.40M250.84,438.22v4.40M249.64,440.42h2.40M253.60,438.22v4.40M252.40,440.42h2.40M256.36,438.22v4.40M255.16,440.42h2.40M259.12,438.22v4.40M257.93,440.42h2.40M261.89,438.22v4.40M260.69,440.42h2.40M264.65,438.22v4.40M263.45,440.42h2.40M267.41,438.22v4.40M266.21,440.42h2.40M270.18,438.22v4.40M268.98,440.42h2.40M272.94,438.22v4.40M271.74,440.42h2.40M275.70,438.22v4.40M274.50,440.42h2.40M278.46,438.22v4.40M277.26,440.42h2.40M281.23,438.22v4.40M280.03,440.42h2.40M283.99,438.22v4.40M282.79,440.42h2.40M286.75,438.22v4.40M285.55,440.42h2.40" fill="none" stroke="#1818ff" stroke-width="0.8"/>
<circle cx="297.40" cy="423.3" r="1.25" fill="#3a3a3a"/>
<circle cx="302.25" cy="423.3" r="1.25" fill="#3a3a3a"/>
<circle cx="307.10" cy="423.3" r="1.25" fill="#3a3a3a"/>
<rect x="338" y="31" width="14" height="546" fill="#efefef"/>
<path d="M342.0,41.2 L348.5,41.2 L345.2,37.2 Z" fill="#a0a0a0"/>
<path d="M342.0,568.5 L348.5,568.5 L345.2,572.5 Z" fill="#a0a0a0"/>
<text x="355" y="42" font-size="10" fill="#1e1e1e" textLength="25" lengthAdjust="spacingAndGlyphs">Name</text>
<line x1="352.5" y1="47.6" x2="550" y2="47.6" stroke="#939393" stroke-width="1.2"/>
<rect x="360.5" y="56.5" width="181" height="17" fill="#ffffff" stroke="#8c8c8c" stroke-width="1"/>
<text x="364.5" y="68" font-size="10" fill="#1e1e1e" textLength="39.16" lengthAdjust="spacingAndGlyphs">BBAR_4l</text>
<text x="355" y="92.6" font-size="10" fill="#1e1e1e" textLength="65" lengthAdjust="spacingAndGlyphs">Wavelength (λ)</text>
<line x1="352.5" y1="97.9" x2="550" y2="97.9" stroke="#939393" stroke-width="1.2"/>
<text x="360.5" y="116.9" font-size="10" fill="#1e1e1e" textLength="15.55" lengthAdjust="spacingAndGlyphs">Min</text>
<text x="421.2" y="116.9" font-size="10" fill="#1e1e1e" textLength="33.24" lengthAdjust="spacingAndGlyphs">Primary</text>
<text x="481.7" y="116.9" font-size="10" fill="#1e1e1e" textLength="18.23" lengthAdjust="spacingAndGlyphs">Max</text>
<rect x="360.5" y="120.5" width="60.5" height="17.30000000000001" fill="#ffffff" stroke="#8c8c8c" stroke-width="1"/>
<rect x="421.5" y="120.5" width="60" height="17.30000000000001" fill="#ffffff" stroke="#8c8c8c" stroke-width="1"/>
<rect x="482.0" y="120.5" width="59.5" height="17.30000000000001" fill="#ffffff" stroke="#8c8c8c" stroke-width="1"/>
<text x="416.8" y="132.8" font-size="10" fill="#1e1e1e" text-anchor="end" textLength="16.1" lengthAdjust="spacingAndGlyphs">300</text>
<text x="477.3" y="132.8" font-size="10" fill="#1e1e1e" text-anchor="end" textLength="24.15" lengthAdjust="spacingAndGlyphs">587.6</text>
<text x="537.6" y="132.8" font-size="10" fill="#1e1e1e" text-anchor="end" textLength="16.1" lengthAdjust="spacingAndGlyphs">800</text>
<text x="355" y="157.4" font-size="10" fill="#1e1e1e" textLength="107" lengthAdjust="spacingAndGlyphs">Incident Angle Range (θ)</text>
<line x1="352.5" y1="161.8" x2="550" y2="161.8" stroke="#939393" stroke-width="1.2"/>
<rect x="361" y="173.7" width="175" height="4.6" fill="#fbfbfb" stroke="#9a9a9a" stroke-width="0.8" rx="1.5"/>
<rect x="366.5" y="174.1" width="28.5" height="3.8" fill="#c6c6c6"/>
<path d="M360.75,171.2 h11.5 v6.3 l-5.75,3.6 l-5.75,-3.6 Z" fill="#ffffff" stroke="#8a8a8a" stroke-width="0.9" stroke-linejoin="round"/>
<line x1="363.35" y1="173.6" x2="369.65" y2="173.6" stroke="#9a9a9a" stroke-width="0.8"/>
<path d="M389.25,171.2 h11.5 v6.3 l-5.75,3.6 l-5.75,-3.6 Z" fill="#ffffff" stroke="#8a8a8a" stroke-width="0.9" stroke-linejoin="round"/>
<line x1="391.85" y1="173.6" x2="398.15" y2="173.6" stroke="#9a9a9a" stroke-width="0.8"/>
<line x1="366.5" y1="183" x2="366.5" y2="188" stroke="#555" stroke-width="0.9"/>
<line x1="370.25333333333333" y1="183.3" x2="370.25333333333333" y2="185.8" stroke="#666" stroke-width="0.8"/>
<line x1="374.00666666666666" y1="183.3" x2="374.00666666666666" y2="185.8" stroke="#666" stroke-width="0.8"/>
<line x1="377.76" y1="183.3" x2="377.76" y2="185.8" stroke="#666" stroke-width="0.8"/>
<line x1="381.5133333333333" y1="183.3" x2="381.5133333333333" y2="185.8" stroke="#666" stroke-width="0.8"/>
<line x1="385.26666666666665" y1="183" x2="385.26666666666665" y2="188" stroke="#555" stroke-width="0.9"/>
<line x1="389.02" y1="183.3" x2="389.02" y2="185.8" stroke="#666" stroke-width="0.8"/>
<line x1="392.7733333333333" y1="183.3" x2="392.7733333333333" y2="185.8" stroke="#666" stroke-width="0.8"/>
<line x1="396.52666666666664" y1="183.3" x2="396.52666666666664" y2="185.8" stroke="#666" stroke-width="0.8"/>
<line x1="400.28" y1="183.3" x2="400.28" y2="185.8" stroke="#666" stroke-width="0.8"/>
<line x1="404.0333333333333" y1="183" x2="404.0333333333333" y2="188" stroke="#555" stroke-width="0.9"/>
<line x1="407.78666666666663" y1="183.3" x2="407.78666666666663" y2="185.8" stroke="#666" stroke-width="0.8"/>
<line x1="411.53999999999996" y1="183.3" x2="411.53999999999996" y2="185.8" stroke="#666" stroke-width="0.8"/>
<line x1="415.29333333333335" y1="183.3" x2="415.29333333333335" y2="185.8" stroke="#666" stroke-width="0.8"/>
<line x1="419.0466666666666" y1="183.3" x2="419.0466666666666" y2="185.8" stroke="#666" stroke-width="0.8"/>
<line x1="422.8" y1="183" x2="422.8" y2="188" stroke="#555" stroke-width="0.9"/>
<line x1="426.55333333333334" y1="183.3" x2="426.55333333333334" y2="185.8" stroke="#666" stroke-width="0.8"/>
<line x1="430.3066666666667" y1="183.3" x2="430.3066666666667" y2="185.8" stroke="#666" stroke-width="0.8"/>
<line x1="434.06" y1="183.3" x2="434.06" y2="185.8" stroke="#666" stroke-width="0.8"/>
<line x1="437.81333333333333" y1="183.3" x2="437.81333333333333" y2="185.8" stroke="#666" stroke-width="0.8"/>
<line x1="441.56666666666666" y1="183" x2="441.56666666666666" y2="188" stroke="#555" stroke-width="0.9"/>
<line x1="445.32" y1="183.3" x2="445.32" y2="185.8" stroke="#666" stroke-width="0.8"/>
<line x1="449.0733333333333" y1="183.3" x2="449.0733333333333" y2="185.8" stroke="#666" stroke-width="0.8"/>
<line x1="452.82666666666665" y1="183.3" x2="452.82666666666665" y2="185.8" stroke="#666" stroke-width="0.8"/>
<line x1="456.58" y1="183.3" x2="456.58" y2="185.8" stroke="#666" stroke-width="0.8"/>
<line x1="460.3333333333333" y1="183" x2="460.3333333333333" y2="188" stroke="#555" stroke-width="0.9"/>
<line x1="464.08666666666664" y1="183.3" x2="464.08666666666664" y2="185.8" stroke="#666" stroke-width="0.8"/>
<line x1="467.84" y1="183.3" x2="467.84" y2="185.8" stroke="#666" stroke-width="0.8"/>
<line x1="471.5933333333333" y1="183.3" x2="471.5933333333333" y2="185.8" stroke="#666" stroke-width="0.8"/>
<line x1="475.34666666666664" y1="183.3" x2="475.34666666666664" y2="185.8" stroke="#666" stroke-width="0.8"/>
<line x1="479.09999999999997" y1="183" x2="479.09999999999997" y2="188" stroke="#555" stroke-width="0.9"/>
<line x1="482.85333333333335" y1="183.3" x2="482.85333333333335" y2="185.8" stroke="#666" stroke-width="0.8"/>
<line x1="486.6066666666667" y1="183.3" x2="486.6066666666667" y2="185.8" stroke="#666" stroke-width="0.8"/>
<line x1="490.35999999999996" y1="183.3" x2="490.35999999999996" y2="185.8" stroke="#666" stroke-width="0.8"/>
<line x1="494.11333333333334" y1="183.3" x2="494.11333333333334" y2="185.8" stroke="#666" stroke-width="0.8"/>
<line x1="497.8666666666667" y1="183" x2="497.8666666666667" y2="188" stroke="#555" stroke-width="0.9"/>
<line x1="501.62" y1="183.3" x2="501.62" y2="185.8" stroke="#666" stroke-width="0.8"/>
<line x1="505.37333333333333" y1="183.3" x2="505.37333333333333" y2="185.8" stroke="#666" stroke-width="0.8"/>
<line x1="509.12666666666667" y1="183.3" x2="509.12666666666667" y2="185.8" stroke="#666" stroke-width="0.8"/>
<line x1="512.88" y1="183.3" x2="512.88" y2="185.8" stroke="#666" stroke-width="0.8"/>
<line x1="516.6333333333333" y1="183" x2="516.6333333333333" y2="188" stroke="#555" stroke-width="0.9"/>
<line x1="520.3866666666667" y1="183.3" x2="520.3866666666667" y2="185.8" stroke="#666" stroke-width="0.8"/>
<line x1="524.14" y1="183.3" x2="524.14" y2="185.8" stroke="#666" stroke-width="0.8"/>
<line x1="527.8933333333333" y1="183.3" x2="527.8933333333333" y2="185.8" stroke="#666" stroke-width="0.8"/>
<line x1="531.6466666666666" y1="183.3" x2="531.6466666666666" y2="185.8" stroke="#666" stroke-width="0.8"/>
<line x1="535.4" y1="183" x2="535.4" y2="188" stroke="#555" stroke-width="0.9"/>
<text x="366.5" y="198.6" font-size="10" fill="#262626" text-anchor="middle" textLength="5.37" lengthAdjust="spacingAndGlyphs">0</text>
<text x="385.26666666666665" y="198.6" font-size="10" fill="#262626" text-anchor="middle" textLength="10.73" lengthAdjust="spacingAndGlyphs">10</text>
<text x="404.0333333333333" y="198.6" font-size="10" fill="#262626" text-anchor="middle" textLength="10.73" lengthAdjust="spacingAndGlyphs">20</text>
<text x="422.8" y="198.6" font-size="10" fill="#262626" text-anchor="middle" textLength="10.73" lengthAdjust="spacingAndGlyphs">30</text>
<text x="441.56666666666666" y="198.6" font-size="10" fill="#262626" text-anchor="middle" textLength="10.73" lengthAdjust="spacingAndGlyphs">40</text>
<text x="460.3333333333333" y="198.6" font-size="10" fill="#262626" text-anchor="middle" textLength="10.73" lengthAdjust="spacingAndGlyphs">50</text>
<text x="479.09999999999997" y="198.6" font-size="10" fill="#262626" text-anchor="middle" textLength="10.73" lengthAdjust="spacingAndGlyphs">60</text>
<text x="497.8666666666667" y="198.6" font-size="10" fill="#262626" text-anchor="middle" textLength="10.73" lengthAdjust="spacingAndGlyphs">70</text>
<text x="516.6333333333333" y="198.6" font-size="10" fill="#262626" text-anchor="middle" textLength="10.73" lengthAdjust="spacingAndGlyphs">80</text>
<text x="535.4" y="198.6" font-size="10" fill="#262626" text-anchor="middle" textLength="10.73" lengthAdjust="spacingAndGlyphs">90</text>
<text x="355" y="222.1" font-size="10" fill="#1e1e1e" textLength="66" lengthAdjust="spacingAndGlyphs">Layer Materials</text>
<line x1="352.5" y1="226.5" x2="550" y2="226.5" stroke="#939393" stroke-width="1.2"/>
<rect x="352.59999999999997" y="231.4" width="16.8" height="16.8" fill="#f7f7f7" stroke="#9c9c9c" stroke-width="0.9" rx="3"/>
<circle cx="361.0" cy="239.8" r="6" fill="#c9f2c9" stroke="#2fae3a" stroke-width="1.1"/>
<line x1="357.4" y1="239.8" x2="364.6" y2="239.8" stroke="#1d3a1d" stroke-width="1.1"/>
<line x1="361.0" y1="236.20000000000002" x2="361.0" y2="243.4" stroke="#1d3a1d" stroke-width="1.1"/>
<rect x="352.8" y="253" width="196.8" height="75.3" fill="#f4f4f4" stroke="#8c8c8c" stroke-width="1"/>
<rect x="353.3" y="253.5" width="195.8" height="14" fill="#f6f6f6"/>
<line x1="352.8" y1="267.6" x2="549.6" y2="267.6" stroke="#8c8c8c" stroke-width="1.3"/>
<text x="379.1" y="263.8" font-size="10" fill="#1e1e1e" textLength="25.74" lengthAdjust="spacingAndGlyphs">Name</text>
<text x="462.2" y="263.8" font-size="10" fill="#1e1e1e" textLength="12.34" lengthAdjust="spacingAndGlyphs">Nd</text>
<text x="505.6" y="263.8" font-size="10" fill="#1e1e1e" textLength="11.8" lengthAdjust="spacingAndGlyphs">Vd</text>
<rect x="357.59999999999997" y="269.7" width="17.2" height="16.8" fill="#f7f7f7" stroke="#9c9c9c" stroke-width="0.9" rx="3"/>
<rect x="359.59999999999997" y="271.7" width="13.2" height="12.8" fill="#ef8080" stroke="#b03a3a" stroke-width="0.8" rx="1"/>
<line x1="362.2" y1="274.3" x2="370.19999999999993" y2="281.9" stroke="#5a0d0d" stroke-width="1"/>
<line x1="370.19999999999993" y1="274.3" x2="362.2" y2="281.9" stroke="#5a0d0d" stroke-width="1"/>
<rect x="379.7" y="269.5" width="77.60000000000002" height="16.30000000000001" fill="#f7f7f7" stroke="#8c8c8c" stroke-width="1" rx="3.5"/>
<text x="383.5" y="281.5" font-size="10" fill="#1e1e1e" textLength="20.55" lengthAdjust="spacingAndGlyphs">TiO2</text>
<path d="M445.9,275.5 L451.7,275.5 L448.8,279.9 Z" fill="#4a4a4a"/>
<text x="462.2" y="281.6" font-size="10" fill="#1e1e1e" textLength="18.78" lengthAdjust="spacingAndGlyphs">2.32</text>
<text x="505.6" y="281.6" font-size="10" fill="#1e1e1e" textLength="18.78" lengthAdjust="spacingAndGlyphs">12.5</text>
<rect x="357.59999999999997" y="288.4" width="17.2" height="16.8" fill="#f7f7f7" stroke="#9c9c9c" stroke-width="0.9" rx="3"/>
<rect x="359.59999999999997" y="290.4" width="13.2" height="12.8" fill="#ef8080" stroke="#b03a3a" stroke-width="0.8" rx="1"/>
<line x1="362.2" y1="293.0" x2="370.19999999999993" y2="300.59999999999997" stroke="#5a0d0d" stroke-width="1"/>
<line x1="370.19999999999993" y1="293.0" x2="362.2" y2="300.59999999999997" stroke="#5a0d0d" stroke-width="1"/>
<rect x="379.7" y="288.2" width="77.60000000000002" height="16.30000000000001" fill="#f7f7f7" stroke="#8c8c8c" stroke-width="1" rx="3.5"/>
<text x="383.5" y="300.2" font-size="10" fill="#1e1e1e" textLength="21.45" lengthAdjust="spacingAndGlyphs">SiO2</text>
<path d="M445.9,294.2 L451.7,294.2 L448.8,298.7 Z" fill="#4a4a4a"/>
<text x="462.2" y="300.3" font-size="10" fill="#1e1e1e" textLength="18.78" lengthAdjust="spacingAndGlyphs">1.46</text>
<text x="505.6" y="300.3" font-size="10" fill="#1e1e1e" textLength="18.78" lengthAdjust="spacingAndGlyphs">68.5</text>
<text x="355" y="343.9" font-size="10" fill="#1e1e1e" textLength="28.5" lengthAdjust="spacingAndGlyphs">Layers</text>
<line x1="352.5" y1="348.7" x2="550" y2="348.7" stroke="#939393" stroke-width="1.2"/>
<rect x="353.0" y="354.4" width="16.8" height="16.8" fill="#f7f7f7" stroke="#9c9c9c" stroke-width="0.9" rx="3"/>
<circle cx="361.40000000000003" cy="362.8" r="6" fill="#c9f2c9" stroke="#2fae3a" stroke-width="1.1"/>
<line x1="357.8" y1="362.8" x2="365.00000000000006" y2="362.8" stroke="#1d3a1d" stroke-width="1.1"/>
<line x1="361.40000000000003" y1="359.2" x2="361.40000000000003" y2="366.40000000000003" stroke="#1d3a1d" stroke-width="1.1"/>
<rect x="371.7" y="354.4" width="15.8" height="16.8" fill="#f3f3f3" stroke="#d6d6d6" stroke-width="0.9" rx="3"/>
<rect x="374.5" y="357.6" width="7" height="7" fill="none" stroke="#d0d0d0" stroke-width="0.9" rx="1"/>
<rect x="377.3" y="360.6" width="7" height="7" fill="#f6f6f6" stroke="#cfcfcf" stroke-width="0.9" rx="1"/>
<rect x="388.5" y="354.4" width="17.2" height="16.8" fill="#f7f7f7" stroke="#9c9c9c" stroke-width="0.9" rx="3"/>
<rect x="390.5" y="356.4" width="13.2" height="12.8" fill="#ef8080" stroke="#b03a3a" stroke-width="0.8" rx="1"/>
<line x1="393.1" y1="359.0" x2="401.09999999999997" y2="366.59999999999997" stroke="#5a0d0d" stroke-width="1"/>
<line x1="401.09999999999997" y1="359.0" x2="393.1" y2="366.59999999999997" stroke="#5a0d0d" stroke-width="1"/>
<text x="406.3" y="365.8" font-size="10" fill="#1e1e1e" textLength="21.6" lengthAdjust="spacingAndGlyphs">Units</text>
<rect x="429.8" y="354.5" width="39.19999999999999" height="16.19999999999999" fill="#f7f7f7" stroke="#8c8c8c" stroke-width="1" rx="3.5"/>
<text x="433.6" y="366.4" font-size="10" fill="#1e1e1e" textLength="13.4" lengthAdjust="spacingAndGlyphs">nm</text>
<path d="M456.9,360.5 L462.7,360.5 L459.8,364.9 Z" fill="#4a4a4a"/>
<rect x="352.8" y="376.3" width="197" height="175.2" fill="#f4f4f4" stroke="#8c8c8c" stroke-width="1"/>
<rect x="353.3" y="376.8" width="196" height="13.8" fill="#f6f6f6"/>
<line x1="352.8" y1="390.9" x2="549.8" y2="390.9" stroke="#8c8c8c" stroke-width="1.3"/>
<text x="365.5" y="386.7" font-size="10" fill="#1e1e1e" textLength="25.74" lengthAdjust="spacingAndGlyphs">Name</text>
<text x="457.9" y="386.7" font-size="10" fill="#1e1e1e" textLength="43.44" lengthAdjust="spacingAndGlyphs">Thickness</text>
<rect x="357.4" y="396.0" width="10.6" height="10.6" fill="#ffffff" stroke="#8c8c8c" stroke-width="0.9"/>
<rect x="370.1" y="392.7" width="86.19999999999999" height="16.600000000000023" fill="#f7f7f7" stroke="#8c8c8c" stroke-width="1" rx="3.5"/>
<text x="373.90000000000003" y="405.0" font-size="10" fill="#1e1e1e" textLength="21.45" lengthAdjust="spacingAndGlyphs">SiO2</text>
<path d="M444.7,398.9 L450.5,398.9 L447.6,403.3 Z" fill="#4a4a4a"/>
<rect x="457.8" y="392.7" width="86.6" height="16.600000000000023" fill="#f7f7f7" stroke="#8c8c8c" stroke-width="1" rx="3.5"/>
<rect x="458.3" y="393.2" width="69.2" height="15.600000000000023" fill="#ffffff"/>
<line x1="527.6" y1="392.7" x2="527.6" y2="409.3" stroke="#8c8c8c" stroke-width="0.9"/>
<line x1="527.6" y1="401.0" x2="544.4" y2="401.0" stroke="#a0a0a0" stroke-width="0.8"/>
<path d="M533.3,398.5 L538.7,398.5 L536.0,395.8 Z" fill="#3a3a3a"/>
<path d="M533.3,404.2 L538.7,404.2 L536.0,406.9 Z" fill="#3a3a3a"/>
<text x="523.8" y="404.59999999999997" font-size="10" fill="#1e1e1e" text-anchor="end" textLength="18.78" lengthAdjust="spacingAndGlyphs">95.5</text>
<rect x="357.4" y="414.35" width="10.6" height="10.6" fill="#ffffff" stroke="#8c8c8c" stroke-width="0.9"/>
<rect x="370.1" y="411.05" width="86.19999999999999" height="16.600000000000023" fill="#f7f7f7" stroke="#8c8c8c" stroke-width="1" rx="3.5"/>
<text x="373.90000000000003" y="423.35" font-size="10" fill="#1e1e1e" textLength="20.55" lengthAdjust="spacingAndGlyphs">TiO2</text>
<path d="M444.7,417.2 L450.5,417.2 L447.6,421.7 Z" fill="#4a4a4a"/>
<rect x="457.8" y="411.05" width="86.6" height="16.600000000000023" fill="#f7f7f7" stroke="#8c8c8c" stroke-width="1" rx="3.5"/>
<rect x="458.3" y="411.55" width="69.2" height="15.600000000000023" fill="#ffffff"/>
<line x1="527.6" y1="411.05" x2="527.6" y2="427.65000000000003" stroke="#8c8c8c" stroke-width="0.9"/>
<line x1="527.6" y1="419.35" x2="544.4" y2="419.35" stroke="#a0a0a0" stroke-width="0.8"/>
<path d="M533.3,416.9 L538.7,416.9 L536.0,414.2 Z" fill="#3a3a3a"/>
<path d="M533.3,422.6 L538.7,422.6 L536.0,425.3 Z" fill="#3a3a3a"/>
<text x="523.8" y="422.95" font-size="10" fill="#1e1e1e" text-anchor="end" textLength="24.15" lengthAdjust="spacingAndGlyphs">129.1</text>
<rect x="357.4" y="432.7" width="10.6" height="10.6" fill="#ffffff" stroke="#8c8c8c" stroke-width="0.9"/>
<rect x="370.1" y="429.4" width="86.19999999999999" height="16.600000000000023" fill="#f7f7f7" stroke="#8c8c8c" stroke-width="1" rx="3.5"/>
<text x="373.90000000000003" y="441.7" font-size="10" fill="#1e1e1e" textLength="21.45" lengthAdjust="spacingAndGlyphs">SiO2</text>
<path d="M444.7,435.6 L450.5,435.6 L447.6,440.0 Z" fill="#4a4a4a"/>
<rect x="457.8" y="429.4" width="86.6" height="16.600000000000023" fill="#f7f7f7" stroke="#8c8c8c" stroke-width="1" rx="3.5"/>
<rect x="458.3" y="429.9" width="69.2" height="15.600000000000023" fill="#ffffff"/>
<line x1="527.6" y1="429.4" x2="527.6" y2="446.0" stroke="#8c8c8c" stroke-width="0.9"/>
<line x1="527.6" y1="437.7" x2="544.4" y2="437.7" stroke="#a0a0a0" stroke-width="0.8"/>
<path d="M533.3,435.2 L538.7,435.2 L536.0,432.5 Z" fill="#3a3a3a"/>
<path d="M533.3,440.9 L538.7,440.9 L536.0,443.6 Z" fill="#3a3a3a"/>
<text x="523.8" y="441.29999999999995" font-size="10" fill="#1e1e1e" text-anchor="end" textLength="18.78" lengthAdjust="spacingAndGlyphs">36.5</text>
<rect x="357.4" y="451.05" width="10.6" height="10.6" fill="#ffffff" stroke="#8c8c8c" stroke-width="0.9"/>
<rect x="370.1" y="447.75" width="86.19999999999999" height="16.600000000000023" fill="#f7f7f7" stroke="#8c8c8c" stroke-width="1" rx="3.5"/>
<text x="373.90000000000003" y="460.05" font-size="10" fill="#1e1e1e" textLength="20.55" lengthAdjust="spacingAndGlyphs">TiO2</text>
<path d="M444.7,453.9 L450.5,453.9 L447.6,458.4 Z" fill="#4a4a4a"/>
<rect x="457.8" y="447.75" width="86.6" height="16.600000000000023" fill="#f7f7f7" stroke="#8c8c8c" stroke-width="1" rx="3.5"/>
<rect x="458.3" y="448.25" width="69.2" height="15.600000000000023" fill="#ffffff"/>
<line x1="527.6" y1="447.75" x2="527.6" y2="464.35" stroke="#8c8c8c" stroke-width="0.9"/>
<line x1="527.6" y1="456.05" x2="544.4" y2="456.05" stroke="#a0a0a0" stroke-width="0.8"/>
<path d="M533.3,453.6 L538.7,453.6 L536.0,450.9 Z" fill="#3a3a3a"/>
<path d="M533.3,459.2 L538.7,459.2 L536.0,462.0 Z" fill="#3a3a3a"/>
<text x="523.8" y="459.65" font-size="10" fill="#1e1e1e" text-anchor="end" textLength="18.78" lengthAdjust="spacingAndGlyphs">14.6</text>
<rect x="352.9" y="556.6999999999999" width="16.8" height="16.8" fill="#f7f7f7" stroke="#9c9c9c" stroke-width="0.9" rx="3"/>
<circle cx="361.3" cy="565.0999999999999" r="6" fill="#c9f2c9" stroke="#2fae3a" stroke-width="1.1"/>
<line x1="357.7" y1="565.0999999999999" x2="364.90000000000003" y2="565.0999999999999" stroke="#1d3a1d" stroke-width="1.1"/>
<line x1="361.3" y1="561.4999999999999" x2="361.3" y2="568.6999999999999" stroke="#1d3a1d" stroke-width="1.1"/>
<rect x="371.79999999999995" y="556.6999999999999" width="15.8" height="16.8" fill="#f3f3f3" stroke="#d6d6d6" stroke-width="0.9" rx="3"/>
<rect x="374.59999999999997" y="559.9" width="7" height="7" fill="none" stroke="#d0d0d0" stroke-width="0.9" rx="1"/>
<rect x="377.4" y="562.9" width="7" height="7" fill="#f6f6f6" stroke="#cfcfcf" stroke-width="0.9" rx="1"/>
<text x="643.8" y="188.7" font-size="10.2" fill="#1a1a1a" font-weight="700" textLength="144.6" lengthAdjust="spacingAndGlyphs">Reflection Power Coefficient</text>
<circle cx="805.80" cy="182.9" r="1.25" fill="#3a3a3a"/>
<circle cx="810.65" cy="182.9" r="1.25" fill="#3a3a3a"/>
<circle cx="815.50" cy="182.9" r="1.25" fill="#3a3a3a"/>
<path d="M729.0,192.5 L818.5,249.5 L818.5,376.0 L702.0,421.5 L613.5,363.0 L613.5,235.0 Z" fill="#ffffff"/>
<line x1="613.5" y1="234.8" x2="613.5" y2="363" stroke="#5a5a5a" stroke-width="0.9"/>
<line x1="613.5" y1="363" x2="702" y2="421.5" stroke="#5a5a5a" stroke-width="0.9"/>
<line x1="702" y1="421.5" x2="818.5" y2="376" stroke="#5a5a5a" stroke-width="0.9"/>
<line x1="613.5" y1="363.0" x2="616" y2="362.2" stroke="#5a5a5a" stroke-width="0.8"/>
<text x="608.3" y="364.3" font-size="10" fill="#303030" text-anchor="end" textLength="5.39" lengthAdjust="spacingAndGlyphs">0</text>
<line x1="613.5" y1="337.4" x2="616" y2="336.59999999999997" stroke="#5a5a5a" stroke-width="0.8"/>
<text x="608.3" y="338.7" font-size="10" fill="#303030" text-anchor="end" textLength="18.88" lengthAdjust="spacingAndGlyphs">0.05</text>
<line x1="613.5" y1="311.8" x2="616" y2="311.0" stroke="#5a5a5a" stroke-width="0.8"/>
<text x="608.3" y="313.1" font-size="10" fill="#303030" text-anchor="end" textLength="13.48" lengthAdjust="spacingAndGlyphs">0.1</text>
<line x1="613.5" y1="286.2" x2="616" y2="285.4" stroke="#5a5a5a" stroke-width="0.8"/>
<text x="608.3" y="287.5" font-size="10" fill="#303030" text-anchor="end" textLength="18.88" lengthAdjust="spacingAndGlyphs">0.15</text>
<line x1="613.5" y1="260.6" x2="616" y2="259.8" stroke="#5a5a5a" stroke-width="0.8"/>
<text x="608.3" y="261.90000000000003" font-size="10" fill="#303030" text-anchor="end" textLength="13.48" lengthAdjust="spacingAndGlyphs">0.2</text>
<line x1="613.5" y1="235.0" x2="616" y2="234.2" stroke="#5a5a5a" stroke-width="0.8"/>
<text x="608.3" y="236.3" font-size="10" fill="#303030" text-anchor="end" textLength="18.88" lengthAdjust="spacingAndGlyphs">0.25</text>
<text x="583" y="300" font-size="10.5" fill="#262626" text-anchor="middle" transform="rotate(-90 583 300)">Ra</text>
<line x1="613.5" y1="363.0" x2="610.9" y2="364.6" stroke="#5a5a5a" stroke-width="0.8"/>
<text x="602.0" y="374.2" font-size="10" fill="#303030" text-anchor="middle" textLength="10.79" lengthAdjust="spacingAndGlyphs">50</text>
<line x1="631.2" y1="374.7" x2="628.6" y2="376.3" stroke="#5a5a5a" stroke-width="0.8"/>
<text x="619.7" y="385.9" font-size="10" fill="#303030" text-anchor="middle" textLength="10.79" lengthAdjust="spacingAndGlyphs">40</text>
<line x1="648.9" y1="386.4" x2="646.3" y2="388.0" stroke="#5a5a5a" stroke-width="0.8"/>
<text x="637.4" y="397.59999999999997" font-size="10" fill="#303030" text-anchor="middle" textLength="10.79" lengthAdjust="spacingAndGlyphs">30</text>
<line x1="666.6" y1="398.1" x2="664.0" y2="399.70000000000005" stroke="#5a5a5a" stroke-width="0.8"/>
<text x="655.1" y="409.3" font-size="10" fill="#303030" text-anchor="middle" textLength="10.79" lengthAdjust="spacingAndGlyphs">20</text>
<line x1="684.3" y1="409.8" x2="681.6999999999999" y2="411.40000000000003" stroke="#5a5a5a" stroke-width="0.8"/>
<text x="672.8" y="421.0" font-size="10" fill="#303030" text-anchor="middle" textLength="10.79" lengthAdjust="spacingAndGlyphs">10</text>
<line x1="702.0" y1="421.5" x2="699.4" y2="423.1" stroke="#5a5a5a" stroke-width="0.8"/>
<text x="690.5" y="432.7" font-size="10" fill="#303030" text-anchor="middle" textLength="5.39" lengthAdjust="spacingAndGlyphs">0</text>
<line x1="702.0" y1="421.5" x2="704.4" y2="423.9" stroke="#5a5a5a" stroke-width="0.8"/>
<text x="715.5" y="434.0" font-size="10" fill="#303030" text-anchor="middle" textLength="16.18" lengthAdjust="spacingAndGlyphs">400</text>
<line x1="760.25" y1="398.75" x2="762.65" y2="401.15" stroke="#5a5a5a" stroke-width="0.8"/>
<text x="773.75" y="411.25" font-size="10" fill="#303030" text-anchor="middle" textLength="16.18" lengthAdjust="spacingAndGlyphs">500</text>
<line x1="818.5" y1="376.0" x2="820.9" y2="378.4" stroke="#5a5a5a" stroke-width="0.8"/>
<text x="832.0" y="388.5" font-size="10" fill="#303030" text-anchor="middle" textLength="16.18" lengthAdjust="spacingAndGlyphs">600</text>
<text x="558.5" y="432.2" font-size="10.6" fill="#262626" textLength="95.8" lengthAdjust="spacingAndGlyphs">Incident Angle (deg)</text>
<text x="762.3" y="434.2" font-size="10.6" fill="#262626" textLength="81.5" lengthAdjust="spacingAndGlyphs">Wavelength (nm)</text>
<defs>
<pattern id="bluepat" width="3" height="3" patternUnits="userSpaceOnUse" patternTransform="rotate(36)">
<rect width="3" height="3" fill="#3f33cc"/><rect y="2.1" width="3" height="0.9" fill="#201a78"/>
</pattern>
<pattern id="vstripe" width="1.6" height="4" patternUnits="userSpaceOnUse" patternTransform="rotate(6)">
<rect x="1.1" width="0.5" height="4" fill="#000" fill-opacity="0.22"/>
</pattern>
<linearGradient id="topband" gradientUnits="userSpaceOnUse" x1="622" y1="0" x2="708" y2="0">
<stop offset="0" stop-color="#22a3b6"/><stop offset="0.2" stop-color="#2aaa9e"/>
<stop offset="0.33" stop-color="#6cb66a"/><stop offset="0.43" stop-color="#c8b040"/>
<stop offset="0.58" stop-color="#e3a838"/><stop offset="0.72" stop-color="#d9c22c"/>
<stop offset="1" stop-color="#d2cc22"/></linearGradient>
<linearGradient id="midband" gradientUnits="userSpaceOnUse" x1="628" y1="0" x2="714" y2="0">
<stop offset="0" stop-color="#3566d6"/><stop offset="0.3" stop-color="#2a8ed0"/>
<stop offset="0.55" stop-color="#1fb0b8"/><stop offset="0.8" stop-color="#4cb38c"/>
<stop offset="1" stop-color="#78b85a"/></linearGradient>
<linearGradient id="lowband" gradientUnits="userSpaceOnUse" x1="635" y1="0" x2="720" y2="0">
<stop offset="0" stop-color="#3a56cc"/><stop offset="0.5" stop-color="#2f7ad6"/>
<stop offset="0.85" stop-color="#24a6c6"/><stop offset="1" stop-color="#27aebe"/></linearGradient>
</defs>
<path d="M703.50,331.20 C706.25,329.87 714.30,325.77 720.00,323.20 C725.70,320.63 734.75,317.03 737.70,315.80 L737.70,315.80 C740.92,318.23 750.07,324.92 757.00,330.40 C763.93,335.88 772.20,342.95 779.30,348.70 C786.40,354.45 793.07,360.35 799.60,364.90 C806.13,369.45 815.35,374.15 818.50,376.00 L818.50,376.00 C814.58,377.58 802.22,382.62 795.00,385.50 C787.78,388.38 782.37,390.68 775.20,393.30 C768.03,395.92 757.75,399.32 752.00,401.20 C746.25,403.08 743.70,403.87 740.70,404.60 C737.70,405.33 735.12,405.43 734.00,405.60 L734.00,405.60 C732.67,404.83 728.67,403.43 726.00,401.00 C723.33,398.57 720.33,395.83 718.00,391.00 C715.67,386.17 713.75,378.83 712.00,372.00 C710.25,365.17 708.92,356.80 707.50,350.00 C706.08,343.20 704.17,334.33 703.50,331.20 Z" fill="url(#bluepat)"/>
<path d="M737.70,315.80 C740.92,318.23 750.07,324.92 757.00,330.40 C763.93,335.88 772.20,342.95 779.30,348.70 C786.40,354.45 793.07,360.35 799.60,364.90 C806.13,369.45 815.35,374.15 818.50,376.00" fill="none" stroke="#1a1650" stroke-width="0.9"/>
<path d="M703.50,331.20 C706.25,329.87 714.30,325.77 720.00,323.20 C725.70,320.63 734.75,317.03 737.70,315.80" fill="none" stroke="#1a1650" stroke-width="0.7"/>
<path d="M818.50,376.00 C814.58,377.58 802.22,382.62 795.00,385.50 C787.78,388.38 782.37,390.68 775.20,393.30 C768.03,395.92 757.75,399.32 752.00,401.20 C746.25,403.08 743.70,403.87 740.70,404.60 C737.70,405.33 735.12,405.43 734.00,405.60" fill="none" stroke="#2a2470" stroke-width="0.6"/>
<path d="M635.30,356.20 C637.08,357.10 641.88,359.67 646.00,361.60 C650.12,363.53 655.97,366.18 660.00,367.80 C664.03,369.42 666.82,370.12 670.20,371.30 C673.58,372.48 676.92,373.72 680.30,374.90 C683.68,376.08 687.12,377.13 690.50,378.40 C693.88,379.67 697.22,381.05 700.60,382.50 C703.98,383.95 707.75,385.75 710.80,387.10 C713.85,388.45 717.55,390.02 718.90,390.60 L718.90,390.60 C719.92,392.03 722.90,396.87 725.00,399.20 C727.10,401.53 730.42,403.70 731.50,404.60 L731.50,404.60 C729.73,403.48 724.35,399.87 720.90,397.90 C717.45,395.93 714.18,394.48 710.80,392.80 C707.42,391.12 703.98,389.48 700.60,387.80 C697.22,386.12 693.88,384.40 690.50,382.70 C687.12,381.00 683.68,379.22 680.30,377.60 C676.92,375.98 673.58,374.50 670.20,373.00 C666.82,371.50 664.03,370.38 660.00,368.60 C655.97,366.82 650.12,364.37 646.00,362.30 C641.88,360.23 637.08,357.22 635.30,356.20 Z" fill="#3a3f9e"/>
<path d="M718.90,390.60 C717.55,390.02 713.85,388.45 710.80,387.10 C707.75,385.75 703.98,383.95 700.60,382.50 C697.22,381.05 693.88,379.67 690.50,378.40 C687.12,377.13 683.68,376.08 680.30,374.90 C676.92,373.72 673.58,372.48 670.20,371.30 C666.82,370.12 664.03,369.42 660.00,367.80 C655.97,366.18 650.12,363.53 646.00,361.60 C641.88,359.67 637.08,357.10 635.30,356.20" fill="none" stroke="#15153a" stroke-width="0.9"/>
<path d="M731.50,404.60 C729.73,403.48 724.35,399.87 720.90,397.90 C717.45,395.93 714.18,394.48 710.80,392.80 C707.42,391.12 703.98,389.48 700.60,387.80 C697.22,386.12 693.88,384.40 690.50,382.70 C687.12,381.00 683.68,379.22 680.30,377.60 C676.92,375.98 673.58,374.50 670.20,373.00 C666.82,371.50 664.03,370.38 660.00,368.60 C655.97,366.82 650.12,364.37 646.00,362.30 C641.88,360.23 637.08,357.22 635.30,356.20" fill="none" stroke="#1c1c50" stroke-width="0.8"/>
<path d="M713.30,374.40 C711.52,373.72 706.40,371.57 702.60,370.30 C698.80,369.03 695.07,367.90 690.50,366.80 C685.93,365.70 680.28,364.47 675.20,363.70 C670.12,362.93 664.38,362.88 660.00,362.20 C655.62,361.52 653.02,360.60 648.90,359.60 C644.78,358.60 637.57,356.77 635.30,356.20 L635.30,356.20 L635.30,356.20 C637.08,357.10 641.88,359.67 646.00,361.60 C650.12,363.53 655.97,366.18 660.00,367.80 C664.03,369.42 666.82,370.12 670.20,371.30 C673.58,372.48 676.92,373.72 680.30,374.90 C683.68,376.08 687.12,377.13 690.50,378.40 C693.88,379.67 697.22,381.05 700.60,382.50 C703.98,383.95 707.75,385.75 710.80,387.10 C713.85,388.45 717.55,390.02 718.90,390.60 L718.90,390.60 C718.45,389.25 717.13,385.20 716.20,382.50 C715.27,379.80 713.78,375.75 713.30,374.40 Z" fill="url(#lowband)"/>
<path d="M707.80,348.00 C706.50,347.53 702.33,346.02 700.00,345.20 C697.67,344.38 696.60,343.73 693.80,343.10 C691.00,342.47 686.73,341.67 683.20,341.40 C679.67,341.13 677.00,341.07 672.60,341.50 C668.20,341.93 661.88,343.22 656.80,344.00 C651.72,344.78 646.82,345.52 642.10,346.20 C637.38,346.88 630.77,347.78 628.50,348.10 L628.50,348.10 C629.18,349.00 631.47,352.15 632.60,353.50 C633.73,354.85 634.85,355.75 635.30,356.20 L635.30,356.20 C637.57,356.77 644.78,358.60 648.90,359.60 C653.02,360.60 655.62,361.52 660.00,362.20 C664.38,362.88 670.12,362.93 675.20,363.70 C680.28,364.47 685.93,365.70 690.50,366.80 C695.07,367.90 698.80,369.03 702.60,370.30 C706.40,371.57 711.52,373.72 713.30,374.40 L713.30,374.40 C712.88,372.23 711.72,365.80 710.80,361.40 C709.88,357.00 708.30,350.23 707.80,348.00 Z" fill="url(#midband)"/>
<path d="M622.40,331.80 C623.67,331.20 626.92,329.58 630.00,328.20 C633.08,326.82 636.43,325.57 640.90,323.50 C645.37,321.43 651.87,317.92 656.80,315.80 C661.73,313.68 666.63,311.83 670.50,310.80 C674.37,309.77 677.00,309.65 680.00,309.60 C683.00,309.55 685.32,309.72 688.50,310.50 C691.68,311.28 696.72,313.18 699.10,314.30 C701.48,315.42 702.18,316.72 702.80,317.20 L702.80,317.20 C703.25,319.58 704.67,326.37 705.50,331.50 C706.33,336.63 707.42,345.25 707.80,348.00 L707.80,348.00 C706.50,347.53 702.33,346.02 700.00,345.20 C697.67,344.38 696.60,343.73 693.80,343.10 C691.00,342.47 686.73,341.67 683.20,341.40 C679.67,341.13 677.00,341.07 672.60,341.50 C668.20,341.93 661.88,343.22 656.80,344.00 C651.72,344.78 646.82,345.52 642.10,346.20 C637.38,346.88 630.77,347.78 628.50,348.10 L628.50,348.10 C628.05,347.08 626.82,344.72 625.80,342.00 C624.78,339.28 622.97,333.50 622.40,331.80 Z" fill="url(#topband)"/>
<path d="M622.40,331.80 C623.67,331.20 626.92,329.58 630.00,328.20 C633.08,326.82 636.43,325.57 640.90,323.50 C645.37,321.43 651.87,317.92 656.80,315.80 C661.73,313.68 666.63,311.83 670.50,310.80 C674.37,309.77 677.00,309.65 680.00,309.60 C683.00,309.55 685.32,309.72 688.50,310.50 C691.68,311.28 696.72,313.18 699.10,314.30 C701.48,315.42 702.18,316.72 702.80,317.20 L702.80,317.20 C703.25,319.58 704.67,326.37 705.50,331.50 C706.33,336.63 707.42,345.25 707.80,348.00 L707.80,348.00 C708.30,350.23 709.88,357.00 710.80,361.40 C711.72,365.80 712.88,372.23 713.30,374.40 L713.30,374.40 C713.78,375.75 715.27,379.80 716.20,382.50 C717.13,385.20 718.45,389.25 718.90,390.60 L718.90,390.60 C717.55,390.02 713.85,388.45 710.80,387.10 C707.75,385.75 703.98,383.95 700.60,382.50 C697.22,381.05 693.88,379.67 690.50,378.40 C687.12,377.13 683.68,376.08 680.30,374.90 C676.92,373.72 673.58,372.48 670.20,371.30 C666.82,370.12 664.03,369.42 660.00,367.80 C655.97,366.18 650.12,363.53 646.00,361.60 C641.88,359.67 637.08,357.10 635.30,356.20 L635.30,356.20 C634.85,355.75 633.73,354.85 632.60,353.50 C631.47,352.15 629.18,349.00 628.50,348.10 L628.50,348.10 C628.05,347.08 626.82,344.72 625.80,342.00 C624.78,339.28 622.97,333.50 622.40,331.80 Z" fill="url(#vstripe)"/>
<path d="M622.40,331.80 C623.67,331.20 626.92,329.58 630.00,328.20 C633.08,326.82 636.43,325.57 640.90,323.50 C645.37,321.43 651.87,317.92 656.80,315.80 C661.73,313.68 666.63,311.83 670.50,310.80 C674.37,309.77 677.00,309.65 680.00,309.60 C683.00,309.55 685.32,309.72 688.50,310.50 C691.68,311.28 696.72,313.18 699.10,314.30 C701.48,315.42 702.18,316.72 702.80,317.20" fill="none" stroke="#3a3a3a" stroke-width="0.8"/>
<path d="M707.80,348.00 C706.50,347.53 702.33,346.02 700.00,345.20 C697.67,344.38 696.60,343.73 693.80,343.10 C691.00,342.47 686.73,341.67 683.20,341.40 C679.67,341.13 677.00,341.07 672.60,341.50 C668.20,341.93 661.88,343.22 656.80,344.00 C651.72,344.78 646.82,345.52 642.10,346.20 C637.38,346.88 630.77,347.78 628.50,348.10" fill="none" stroke="#2a4a5a" stroke-width="0.6" stroke-opacity="0.6"/>
<path d="M713.30,374.40 C711.52,373.72 706.40,371.57 702.60,370.30 C698.80,369.03 695.07,367.90 690.50,366.80 C685.93,365.70 680.28,364.47 675.20,363.70 C670.12,362.93 664.38,362.88 660.00,362.20 C655.62,361.52 653.02,360.60 648.90,359.60 C644.78,358.60 637.57,356.77 635.30,356.20" fill="none" stroke="#1a2a6a" stroke-width="0.6" stroke-opacity="0.6"/>
</svg></body></html>
